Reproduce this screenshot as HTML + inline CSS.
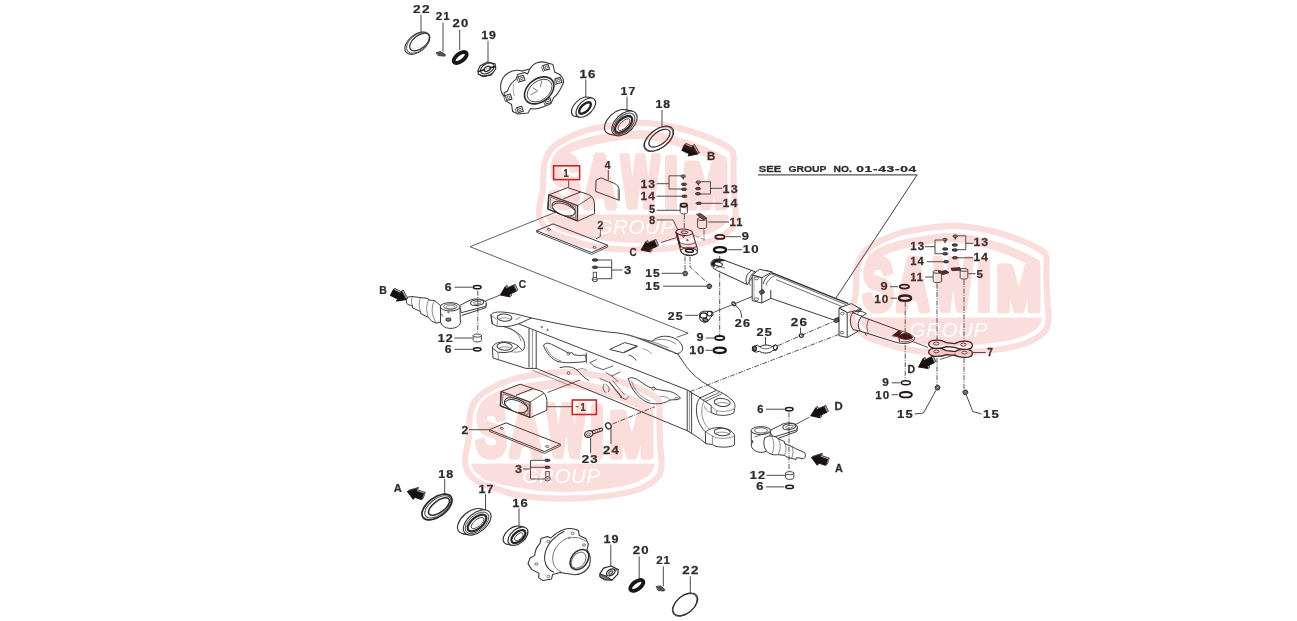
<!DOCTYPE html>
<html lang="en">
<head>
<meta charset="utf-8">
<title>Rear axle parts diagram</title>
<style>
html,body{margin:0;padding:0;background:#fff;}
body{width:1297px;height:621px;overflow:hidden;}
svg{display:block;position:absolute;left:0;top:0;}
text{font-family:"Liberation Sans",sans-serif;}
.n{font-weight:bold;stroke:#2b2b2b;stroke-width:0.25px;}
.g{font-weight:bold;}
.wmt{font-family:"Liberation Sans",sans-serif;font-weight:bold;}
.wmg{font-family:"Liberation Sans",sans-serif;font-style:italic;}
#art{filter:url(#soft);}
</style>
</head>
<body>
<svg width="1297" height="621" viewBox="0 0 1297 621">
<defs>
<filter id="soft" x="0" y="0" width="100%" height="100%" filterUnits="userSpaceOnUse" color-interpolation-filters="sRGB"><feGaussianBlur stdDeviation="0.45"/></filter>
</defs>
<rect width="1297" height="621" fill="#ffffff"/>
<g id="art">
<path d="M491 314.8 C491.6 312.6 496 311.8 502 312 C511 312.4 520 315 531.5 318 L518.6 323.8 C514 325.6 509 326.6 504 326.6 L497 326.2 L492.4 323.8 Z" fill="#fff" stroke="#404040" stroke-width="1" stroke-linejoin="round" stroke-linecap="round"/>
<path d="M491 314.8 L492.4 323.8" fill="none" stroke="#404040" stroke-width="1" stroke-linejoin="round" stroke-linecap="round"/>
<path d="M492.4 316.6 C495 318.4 497 319.6 497.4 320.6 L497 326.2" fill="none" stroke="#606060" stroke-width="0.7" stroke-linejoin="round" stroke-linecap="round"/>
<ellipse cx="504.5" cy="317.6" rx="7.4" ry="3.6" fill="#fff" stroke="#404040" stroke-width="1" transform="rotate(4 504.5 317.6)"/>
<path d="M498.6 319.4 C501 317.4 507 317.2 510.6 319" fill="none" stroke="#606060" stroke-width="0.7" stroke-linejoin="round" stroke-linecap="round"/>
<line x1="515.6" y1="319.6" x2="520.6" y2="317.2" stroke="#606060" stroke-width="0.7" stroke-linecap="butt"/>
<path d="M492.4 347.6 C493 344 498 341.8 504 341.8 C510 341.8 515 343.4 518.6 346.4 L511 351.6 L505 352.6 L498 352.2 Z" fill="#fff" stroke="#404040" stroke-width="1" stroke-linejoin="round" stroke-linecap="round"/>
<ellipse cx="504.6" cy="346.4" rx="7.6" ry="3.8" fill="#fff" stroke="#404040" stroke-width="1" transform="rotate(3 504.6 346.4)"/>
<path d="M498.6 348.4 C501 346.4 507 346.2 510.6 348" fill="none" stroke="#606060" stroke-width="0.7" stroke-linejoin="round" stroke-linecap="round"/>
<path d="M492.4 347.6 L493 358 L526 368.4 L536.4 368.4" fill="none" stroke="#404040" stroke-width="1" stroke-linejoin="round" stroke-linecap="round"/>
<path d="M498 352.2 L498.4 359.6" fill="none" stroke="#606060" stroke-width="0.7" stroke-linejoin="round" stroke-linecap="round"/>
<path d="M504 326.6 C512 329 520 333 523.6 340 C525.6 345 524.6 349 522.6 350.6 L518.6 346.4" fill="none" stroke="#404040" stroke-width="1" stroke-linejoin="round" stroke-linecap="round"/>
<path d="M511 351.6 C514 352.6 520 352.4 522.6 350.6" fill="none" stroke="#606060" stroke-width="0.7" stroke-linejoin="round" stroke-linecap="round"/>
<path d="M509 327.6 C515 330.6 519.6 335 521 341" fill="none" stroke="#606060" stroke-width="0.7" stroke-linejoin="round" stroke-linecap="round"/>
<line x1="529" y1="328.4" x2="529" y2="367.6" stroke="#404040" stroke-width="1" stroke-linecap="butt"/>
<line x1="532.4" y1="330" x2="532.4" y2="368.4" stroke="#606060" stroke-width="0.7" stroke-linecap="butt"/>
<line x1="536.2" y1="331.6" x2="536.2" y2="368.4" stroke="#404040" stroke-width="1" stroke-linecap="butt"/>
<path d="M531.5 318 C560 324 590 330.6 617.9 333 C626 334 633 336.4 640 338.6" fill="none" stroke="#404040" stroke-width="1" stroke-linejoin="round" stroke-linecap="round"/>
<path d="M518.6 323.8 L536 330.8 L689 390.6" fill="none" stroke="#404040" stroke-width="1" stroke-linejoin="round" stroke-linecap="round"/>
<ellipse cx="541.8" cy="327" rx="0.7" ry="0.7" fill="none" stroke="#404040" stroke-width="0.8"/>
<ellipse cx="547.6" cy="329.9" rx="0.7" ry="0.7" fill="none" stroke="#404040" stroke-width="0.8"/>
<path d="M640 338.6 L652 341.4 C655 337.6 662 335.6 668 336.4 C676 337.4 682 342.4 682.6 347.6 C683 351.6 679 354.4 675 353.4" fill="none" stroke="#404040" stroke-width="1" stroke-linejoin="round" stroke-linecap="round"/>
<path d="M640 338.6 C650 343 662 347.6 672 351.6 L678 354.2" fill="none" stroke="#404040" stroke-width="1" stroke-linejoin="round" stroke-linecap="round"/>
<path d="M636 337.6 C648 342 660 347 670 351.4" fill="none" stroke="#606060" stroke-width="0.7" stroke-linejoin="round" stroke-linecap="round"/>
<path d="M628 334.6 C642 338.6 658 345 674 352.4" fill="none" stroke="#606060" stroke-width="0.7" stroke-linejoin="round" stroke-linecap="round"/>
<path d="M652 341.4 C658 338 668 338.6 676 344" fill="none" stroke="#606060" stroke-width="0.7" stroke-linejoin="round" stroke-linecap="round"/>
<path d="M652 341.4 L668 347.6" fill="none" stroke="#606060" stroke-width="0.7" stroke-linejoin="round" stroke-linecap="round"/>
<polygon points="609.7,349.4 624.7,342.6 637,346 623.4,352.8" fill="none" stroke="#404040" stroke-width="1" stroke-linejoin="round"/>
<line x1="623.6" y1="352.6" x2="637.6" y2="346.2" stroke="#555" stroke-width="1.4" stroke-linecap="butt"/>
<path d="M629 355 C632 356 634.6 357.6 636 360.2" fill="none" stroke="#404040" stroke-width="1" stroke-linejoin="round" stroke-linecap="round"/>
<path d="M643 348.6 C646.6 349.6 649.6 351.6 651.4 353.6" fill="none" stroke="#606060" stroke-width="0.7" stroke-linejoin="round" stroke-linecap="round"/>
<path d="M678 354.2 C680.6 358 683 362 686.3 366.5 C692 374 700 381 708.4 385.5 L716.6 390.3" fill="none" stroke="#404040" stroke-width="1" stroke-linejoin="round" stroke-linecap="round"/>
<path d="M536.4 368.4 L687.2 430.7" fill="none" stroke="#404040" stroke-width="1" stroke-linejoin="round" stroke-linecap="round"/>
<path d="M533 370.4 L570 385.6" fill="none" stroke="#606060" stroke-width="0.7" stroke-linejoin="round" stroke-linecap="round"/>
<path d="M543.6 345.6 C545 342 549 343 553 345 C559 348 565 351 569.4 353.6 C571 352 573.4 352.6 573.4 354.6 C577 355.6 582 355.6 585.6 355 L586.4 361 C582 362.6 577 362 573 362.6 C568 363 563 362.6 558 361.6 C552 359.6 546 353 543.6 345.6 Z" fill="none" stroke="#404040" stroke-width="1" stroke-linejoin="round" stroke-linecap="round"/>
<path d="M546.4 347.6 C548.6 354 554 359 561 361" fill="none" stroke="#606060" stroke-width="0.7" stroke-linejoin="round" stroke-linecap="round"/>
<ellipse cx="568.4" cy="353.6" rx="1.5" ry="1.5" fill="none" stroke="#404040" stroke-width="0.7"/>
<ellipse cx="568.6" cy="373" rx="1.5" ry="1.5" fill="none" stroke="#404040" stroke-width="0.7"/>
<path d="M560 367.6 C566 366 573 366.6 577 370 C580 373 584 378 588.4 380.2" fill="none" stroke="#404040" stroke-width="1" stroke-linejoin="round" stroke-linecap="round"/>
<path d="M577 370 C580 368 584 368 586.6 370.4" fill="none" stroke="#606060" stroke-width="0.7" stroke-linejoin="round" stroke-linecap="round"/>
<path d="M586.4 353 L586.6 363 M590 362.6 L596.6 359.6 M590 362.6 L594.6 366.6 M594.6 366.6 L603 369.6 M603 369.6 L613 366 M606 372.6 L612 376 M612 376 L620 372 M612 376 L618 381.6 M600 378.6 L608 382 M604 384 C602 387 603 391 606 392.6 M606 384.6 C609 386 610 389 608.6 391.6" fill="none" stroke="#404040" stroke-width="0.8" stroke-linejoin="round" stroke-linecap="round"/>
<line x1="609" y1="381.6" x2="622" y2="397.6" stroke="#555" stroke-width="1.3" stroke-linecap="butt"/>
<line x1="612.6" y1="380.6" x2="624.6" y2="395" stroke="#404040" stroke-width="0.7" stroke-linecap="butt"/>
<path d="M620 397 L626 399.6 L628.6 396.6" fill="none" stroke="#404040" stroke-width="0.8" stroke-linejoin="round" stroke-linecap="round"/>
<path d="M628.4 378.6 C631 376.6 635 378 639 380.6 C644 384 648 387 651.6 388 C653 386.6 655.6 387 655.4 389 C659 390 665 390.6 669.6 391.4 C674 392.4 678.6 395 680.4 398.4 C678 400 674 399.6 670 400 C664 404 656 404.6 649 403 C640 400 631 390 628.4 378.6 Z" fill="none" stroke="#404040" stroke-width="1" stroke-linejoin="round" stroke-linecap="round"/>
<path d="M631.6 381 C634 390 641 398 650 401" fill="none" stroke="#606060" stroke-width="0.7" stroke-linejoin="round" stroke-linecap="round"/>
<ellipse cx="653.4" cy="388.6" rx="1.5" ry="1.5" fill="none" stroke="#404040" stroke-width="0.7"/>
<ellipse cx="676.4" cy="398.6" rx="1.6" ry="1.3" fill="none" stroke="#404040" stroke-width="0.7"/>
<path d="M660 396.6 C664 396 668 397 670 400" fill="none" stroke="#606060" stroke-width="0.7" stroke-linejoin="round" stroke-linecap="round"/>
<line x1="687.2" y1="390.3" x2="687.2" y2="430.7" stroke="#404040" stroke-width="1" stroke-linecap="butt"/>
<line x1="689.4" y1="391.4" x2="689.4" y2="431.6" stroke="#606060" stroke-width="0.7" stroke-linecap="butt"/>
<line x1="691.6" y1="392.4" x2="691.6" y2="433" stroke="#404040" stroke-width="1" stroke-linecap="butt"/>
<path d="M689 391.2 L700.2 397.8" fill="none" stroke="#404040" stroke-width="1" stroke-linejoin="round" stroke-linecap="round"/>
<path d="M687.2 430.7 L700.2 438.9 L706 443.6" fill="none" stroke="#404040" stroke-width="1" stroke-linejoin="round" stroke-linecap="round"/>
<path d="M700.2 397.8 L716.6 390.3 C722 392.6 728 396 732 400 C735 403 735.6 406 734.4 408.6 L734 412.6 C730 415.6 722 416 716 414.6 L711.2 412.6 L711.2 406 Z" fill="#fff" stroke="#404040" stroke-width="1" stroke-linejoin="round" stroke-linecap="round"/>
<path d="M734.4 408.6 C730 411.6 722 412 716 410.6 L711.2 406" fill="none" stroke="#606060" stroke-width="0.7" stroke-linejoin="round" stroke-linecap="round"/>
<ellipse cx="722.2" cy="402.4" rx="8" ry="4" fill="#fff" stroke="#404040" stroke-width="1" transform="rotate(6 722.2 402.4)"/>
<path d="M715.6 404 C718 402 725 402 728.6 404" fill="none" stroke="#606060" stroke-width="0.7" stroke-linejoin="round" stroke-linecap="round"/>
<path d="M703.6 399.6 L719 392.6 M706 401.2 L721.4 394" fill="none" stroke="#404040" stroke-width="0.8" stroke-linejoin="round" stroke-linecap="round"/>
<line x1="716.6" y1="411" x2="716.6" y2="414.6" stroke="#606060" stroke-width="0.7" stroke-linecap="butt"/>
<path d="M705.6 432 C708 429 714 427.4 720 427.6 C727 428 733 431 734.6 435.6 L734.4 445 C731 447.4 722 447.6 716 446.4 L712.4 444.6 L706 443.6 Z" fill="#fff" stroke="#404040" stroke-width="1" stroke-linejoin="round" stroke-linecap="round"/>
<path d="M734.6 435.6 C731 438.4 722 439 716 437.6 L712.4 436 L705.6 432 M712.4 436 L712.4 444.6" fill="none" stroke="#606060" stroke-width="0.7" stroke-linejoin="round" stroke-linecap="round"/>
<ellipse cx="722.2" cy="432" rx="8" ry="3.8" fill="#fff" stroke="#404040" stroke-width="1" transform="rotate(4 722.2 432)"/>
<path d="M715.6 433.6 C718 431.6 725 431.6 728.6 433.6" fill="none" stroke="#606060" stroke-width="0.7" stroke-linejoin="round" stroke-linecap="round"/>
<path d="M700.2 397.8 C696.6 401 695.6 408 697 416 C698.6 423 702 429 705.6 432" fill="none" stroke="#404040" stroke-width="1" stroke-linejoin="round" stroke-linecap="round"/>
<path d="M704.6 400.6 C701.6 405 701 412 702.6 418 C704 423.6 707 427.6 710 429.6" fill="none" stroke="#606060" stroke-width="0.7" stroke-linejoin="round" stroke-linecap="round"/>
<path d="M711.2 412.6 C707 411.6 704.6 409 704.6 406" fill="none" stroke="#606060" stroke-width="0.7" stroke-linejoin="round" stroke-linecap="round"/>
<path d="M459.6 305.6 L470 300.2 C474 298.4 481 298.6 484.6 300.8 C487 302.4 487 305 485.4 306.4 L461.6 312.6 Z" fill="#fff" stroke="#3a3a3a" stroke-width="1" stroke-linejoin="round" stroke-linecap="round"/>
<ellipse cx="477.1" cy="302.6" rx="6.6" ry="2.8" fill="#fff" stroke="#3a3a3a" stroke-width="1" transform="rotate(-6 477.1 302.6)"/>
<ellipse cx="477.3" cy="302.8" rx="3.8" ry="1.5" fill="none" stroke="#5a5a5a" stroke-width="0.8" transform="rotate(-6 477.3 302.8)"/>
<path d="M486 303.6 L486 307.6 L462 315.4" fill="none" stroke="#3a3a3a" stroke-width="1" stroke-linejoin="round" stroke-linecap="round"/>
<path d="M407.4 297.4 C405.8 299.4 406 302.6 407.6 304.4 L412.6 306 L412.4 307.8 L420.6 311.6 L420.8 313.6 L428.6 317.6 C430 320 433 322.4 436.6 323 L441 322 L441 306 L434.6 300.6 L428.6 300 L428 298.4 L420.6 297.6 L412.4 296.6 Z" fill="#fff" stroke="#3a3a3a" stroke-width="1" stroke-linejoin="round" stroke-linecap="round"/>
<path d="M412.4 296.6 C411 299 411.2 303.6 412.6 306 M420.6 297.6 C418.6 301 418.8 308 420.6 311.6 M428.6 300 C426 304 426 313 428.6 317.6 M434.6 300.6 C431 305 431 317 436.6 323" fill="none" stroke="#5a5a5a" stroke-width="0.7" stroke-linejoin="round" stroke-linecap="round"/>
<path d="M440.4 306.8 L440.6 322.6 C442 326.6 447 328.6 451 328.4 C456 328.2 460 326 460.4 322.6 L460 306.8" fill="#fff" stroke="#3a3a3a" stroke-width="1" stroke-linejoin="round" stroke-linecap="round"/>
<ellipse cx="450.2" cy="306.8" rx="9.8" ry="4.2" fill="#fff" stroke="#3a3a3a" stroke-width="1"/>
<ellipse cx="450.4" cy="306.6" rx="6.8" ry="2.7" fill="none" stroke="#3a3a3a" stroke-width="0.8"/>
<ellipse cx="450.6" cy="307.2" rx="4.6" ry="1.7" fill="none" stroke="#5a5a5a" stroke-width="0.7"/>
<ellipse cx="448.4" cy="319.6" rx="2.4" ry="1.6" fill="#888" stroke="#333" stroke-width="1.1"/>
<ellipse cx="448.4" cy="312.4" rx="0.6" ry="0.6" fill="none" stroke="#333" stroke-width="0.7"/>
<path d="M441.6 314 L442.4 316" fill="none" stroke="#333" stroke-width="0.8" stroke-linejoin="round" stroke-linecap="round"/>
<path d="M769.6 430.6 L782 424.4 C785 422.6 792 422.4 795.6 424.4 C798 425.8 798 428.6 796.4 430 L773.6 437.2 Z" fill="#fff" stroke="#3a3a3a" stroke-width="1" stroke-linejoin="round" stroke-linecap="round"/>
<ellipse cx="789.3" cy="426.6" rx="6.6" ry="2.9" fill="#fff" stroke="#3a3a3a" stroke-width="1" transform="rotate(-8 789.3 426.6)"/>
<ellipse cx="789.4" cy="426.8" rx="3.8" ry="1.5" fill="none" stroke="#5a5a5a" stroke-width="0.8" transform="rotate(-8 789.4 426.8)"/>
<path d="M797 427.6 L797 431.4 L776 439.2" fill="none" stroke="#3a3a3a" stroke-width="1" stroke-linejoin="round" stroke-linecap="round"/>
<path d="M751.2 431 L751.4 446.6 C753 450.6 758 452.6 762 452.4 C764 452.2 766 451.6 767.6 450.6 L770.6 431" fill="#fff" stroke="#3a3a3a" stroke-width="1" stroke-linejoin="round" stroke-linecap="round"/>
<ellipse cx="760.9" cy="430.6" rx="9.7" ry="4" fill="#fff" stroke="#3a3a3a" stroke-width="1"/>
<ellipse cx="761" cy="430.4" rx="6.6" ry="2.6" fill="none" stroke="#3a3a3a" stroke-width="0.8"/>
<path d="M752.4 440.6 L752.8 443" fill="none" stroke="#333" stroke-width="1" stroke-linejoin="round" stroke-linecap="round"/>
<path d="M765 437.6 C769 435 775 435.6 778 438.6 L784.4 441.6 L784.6 443.6 L792 446.6 L795.6 448.6 L804.6 452.6 C806 454.6 805.6 457.4 803.6 458.8 L796.6 457.6 L796 459.4 L788 457.6 L784.4 455.4 L778 454.6 C774 455.6 769 454 766.4 451 C763.6 447 763 441 765 437.6 Z" fill="#fff" stroke="#3a3a3a" stroke-width="1" stroke-linejoin="round" stroke-linecap="round"/>
<path d="M778 438.6 C781 442.6 781 450.6 778 454.6 M771.6 436.4 C774.6 441 774.6 450 771.4 454.6 M784.4 441.6 C786.6 445.6 786.6 451.6 784.4 455.4 M792 446.6 C793.6 449.6 793.4 454.6 791.6 458.4" fill="none" stroke="#5a5a5a" stroke-width="0.7" stroke-linejoin="round" stroke-linecap="round"/>
<path d="M755 437 L770 431.6" fill="none" stroke="#5a5a5a" stroke-width="0.8" stroke-linejoin="round" stroke-linecap="round"/>
<line x1="470" y1="246.7" x2="559.8" y2="210.5" stroke="#3a3a3a" stroke-width="0.8" stroke-linecap="butt"/>
<polyline points="470,246.7 688.2,333.2 676.6,337.4" fill="none" stroke="#3a3a3a" stroke-width="0.8" stroke-linejoin="round"/>
<line x1="547.5" y1="392.5" x2="580" y2="380" stroke="#3a3a3a" stroke-width="0.8" stroke-linecap="butt"/>
<line x1="612.5" y1="424" x2="655" y2="406.7" stroke="#2b2b2b" stroke-width="0.8" stroke-dasharray="5 1.3 1 1.3" stroke-linecap="butt"/>
<line x1="690" y1="391.7" x2="840" y2="334" stroke="#2b2b2b" stroke-width="0.8" stroke-dasharray="5 1.3 1 1.3" stroke-linecap="butt"/>
<line x1="713.3" y1="312.5" x2="756.7" y2="294.7" stroke="#2b2b2b" stroke-width="0.8" stroke-linecap="butt"/>
<line x1="777.5" y1="345.8" x2="835" y2="320.8" stroke="#2b2b2b" stroke-width="0.8" stroke-dasharray="5 1.3 1 1.3" stroke-linecap="butt"/>
<line x1="421" y1="14.7" x2="421" y2="31.7" stroke="#2b2b2b" stroke-width="0.85" stroke-linecap="butt"/>
<line x1="443" y1="22.5" x2="443" y2="51.7" stroke="#2b2b2b" stroke-width="0.85" stroke-linecap="butt"/>
<line x1="459.7" y1="29.7" x2="459.7" y2="50" stroke="#2b2b2b" stroke-width="0.85" stroke-linecap="butt"/>
<line x1="488" y1="40.8" x2="488" y2="62.5" stroke="#2b2b2b" stroke-width="0.85" stroke-linecap="butt"/>
<line x1="585.8" y1="79.5" x2="585.8" y2="97.5" stroke="#2b2b2b" stroke-width="0.85" stroke-linecap="butt"/>
<line x1="627" y1="96.7" x2="627" y2="110" stroke="#2b2b2b" stroke-width="0.85" stroke-linecap="butt"/>
<line x1="662" y1="110" x2="662" y2="126" stroke="#2b2b2b" stroke-width="0.85" stroke-linecap="butt"/>
<line x1="608.3" y1="170" x2="608.3" y2="180" stroke="#2b2b2b" stroke-width="0.85" stroke-linecap="butt"/>
<line x1="568.7" y1="180.3" x2="568.7" y2="187.5" stroke="#2b2b2b" stroke-width="0.85" stroke-linecap="butt"/>
<line x1="600.3" y1="229.5" x2="600.3" y2="236.5" stroke="#2b2b2b" stroke-width="0.85" stroke-linecap="butt"/>
<line x1="444.7" y1="479" x2="444.7" y2="494.7" stroke="#2b2b2b" stroke-width="0.85" stroke-linecap="butt"/>
<line x1="485.5" y1="494.3" x2="485.5" y2="510" stroke="#2b2b2b" stroke-width="0.85" stroke-linecap="butt"/>
<line x1="519" y1="508.3" x2="519" y2="526.7" stroke="#2b2b2b" stroke-width="0.85" stroke-linecap="butt"/>
<line x1="610.8" y1="544.7" x2="610.8" y2="566.3" stroke="#2b2b2b" stroke-width="0.85" stroke-linecap="butt"/>
<line x1="639.2" y1="556.3" x2="639.2" y2="578.8" stroke="#2b2b2b" stroke-width="0.85" stroke-linecap="butt"/>
<line x1="663.3" y1="566.3" x2="663.3" y2="586.3" stroke="#2b2b2b" stroke-width="0.85" stroke-linecap="butt"/>
<line x1="690.3" y1="576.3" x2="690.3" y2="593.8" stroke="#2b2b2b" stroke-width="0.85" stroke-linecap="butt"/>
<line x1="590.6" y1="437.6" x2="590.6" y2="453.3" stroke="#2b2b2b" stroke-width="0.85" stroke-linecap="butt"/>
<line x1="765.5" y1="337" x2="765.5" y2="345.8" stroke="#2b2b2b" stroke-width="0.85" stroke-linecap="butt"/>
<line x1="800.5" y1="327.5" x2="800.5" y2="333.3" stroke="#2b2b2b" stroke-width="0.85" stroke-linecap="butt"/>
<line x1="611" y1="428.6" x2="611" y2="444" stroke="#2b2b2b" stroke-width="0.85" stroke-linecap="butt"/>
<line x1="656.7" y1="183.7" x2="669" y2="183.7" stroke="#2b2b2b" stroke-width="0.85" stroke-linecap="butt"/>
<line x1="669" y1="175.8" x2="669" y2="189" stroke="#2b2b2b" stroke-width="0.85" stroke-linecap="butt"/>
<line x1="669" y1="175.8" x2="681" y2="175.8" stroke="#2b2b2b" stroke-width="0.85" stroke-linecap="butt"/>
<line x1="669" y1="189" x2="681" y2="189" stroke="#2b2b2b" stroke-width="0.85" stroke-linecap="butt"/>
<ellipse cx="683.2" cy="176.2" rx="2.2" ry="1.3" fill="#888" stroke="#222" stroke-width="0.9"/>
<line x1="683.2" y1="177.2" x2="683.2" y2="179.6" stroke="#333" stroke-width="1.3" stroke-linecap="butt"/>
<ellipse cx="684" cy="184.3" rx="2.7" ry="1.2" fill="#555" stroke="#222" stroke-width="0.9"/>
<ellipse cx="684" cy="189.3" rx="2.7" ry="1.2" fill="#555" stroke="#222" stroke-width="0.9"/>
<line x1="656.7" y1="196.2" x2="681" y2="196.2" stroke="#2b2b2b" stroke-width="0.85" stroke-linecap="butt"/>
<ellipse cx="684.3" cy="196.2" rx="2.7" ry="1.2" fill="#555" stroke="#222" stroke-width="0.9"/>
<line x1="656.7" y1="210.3" x2="680" y2="210.3" stroke="#2b2b2b" stroke-width="0.85" stroke-linecap="butt"/>
<path d="M680.2 205.8 L680.2 212.4 A3.6 1.6 0 0 0 687.4 212.4 L687.4 205.8" fill="#fff" stroke="#333" stroke-width="0.9" stroke-linejoin="round" stroke-linecap="round"/>
<ellipse cx="683.8" cy="205.8" rx="3.6" ry="1.6" fill="#fff" stroke="#333" stroke-width="0.9"/>
<ellipse cx="683.8" cy="205" rx="3.3" ry="1.6" fill="#fff" stroke="#2a2020" stroke-width="1.7"/>
<polyline points="656.7,220 673,220 678,230" fill="none" stroke="#2b2b2b" stroke-width="0.85" stroke-linejoin="round"/>
<line x1="710.5" y1="181.7" x2="710.5" y2="194" stroke="#2b2b2b" stroke-width="0.85" stroke-linecap="butt"/>
<line x1="700.5" y1="181.7" x2="710.5" y2="181.7" stroke="#2b2b2b" stroke-width="0.85" stroke-linecap="butt"/>
<line x1="700.5" y1="194" x2="710.5" y2="194" stroke="#2b2b2b" stroke-width="0.85" stroke-linecap="butt"/>
<line x1="710.5" y1="188.3" x2="722.5" y2="188.3" stroke="#2b2b2b" stroke-width="0.85" stroke-linecap="butt"/>
<ellipse cx="698.3" cy="182.2" rx="2.2" ry="1.3" fill="#888" stroke="#222" stroke-width="0.9"/>
<line x1="698.3" y1="183.2" x2="698.3" y2="185.6" stroke="#333" stroke-width="1.3" stroke-linecap="butt"/>
<ellipse cx="698" cy="188.6" rx="2.7" ry="1.2" fill="#555" stroke="#222" stroke-width="0.9"/>
<ellipse cx="698" cy="193.8" rx="2.7" ry="1.2" fill="#555" stroke="#222" stroke-width="0.9"/>
<line x1="701.7" y1="203.3" x2="722.5" y2="203.3" stroke="#2b2b2b" stroke-width="0.85" stroke-linecap="butt"/>
<ellipse cx="698.8" cy="203.3" rx="2.7" ry="1.2" fill="#555" stroke="#222" stroke-width="0.9"/>
<line x1="708" y1="222" x2="729" y2="222" stroke="#2b2b2b" stroke-width="0.85" stroke-linecap="butt"/>
<path d="M697.6 219 L697.6 227.1 A4.5 1.5 0 0 0 706.6 227.1 L706.6 219" fill="#fff" stroke="#333" stroke-width="0.9" stroke-linejoin="round" stroke-linecap="round"/>
<ellipse cx="702.1" cy="219" rx="4.5" ry="1.5" fill="#fff" stroke="#333" stroke-width="0.9"/>
<polygon points="696.6,214.4 700.5,213.6 706.8,218.3 703,219.6" fill="#555" stroke="#222" stroke-width="0.9" stroke-linejoin="round"/>
<line x1="684.3" y1="214.5" x2="684.3" y2="229" stroke="#2b2b2b" stroke-width="0.8" stroke-dasharray="5 1.3 1 1.3" stroke-linecap="butt"/>
<line x1="704" y1="229.5" x2="704" y2="240.5" stroke="#2b2b2b" stroke-width="0.8" stroke-dasharray="5 1.3 1 1.3" stroke-linecap="butt"/>
<line x1="726" y1="236.7" x2="740.8" y2="236.7" stroke="#2b2b2b" stroke-width="0.85" stroke-linecap="butt"/>
<ellipse cx="720" cy="236.9" rx="4.6" ry="2" fill="#fff" stroke="#241414" stroke-width="1.9"/>
<line x1="727.5" y1="249.7" x2="742" y2="249.7" stroke="#2b2b2b" stroke-width="0.85" stroke-linecap="butt"/>
<ellipse cx="720" cy="249.8" rx="6.1" ry="2.7" fill="#fff" stroke="#181212" stroke-width="2.3"/>
<line x1="611.7" y1="260" x2="611.7" y2="278.7" stroke="#2b2b2b" stroke-width="0.85" stroke-linecap="butt"/>
<line x1="598" y1="260" x2="611.7" y2="260" stroke="#2b2b2b" stroke-width="0.85" stroke-linecap="butt"/>
<line x1="598" y1="267.3" x2="611.7" y2="267.3" stroke="#2b2b2b" stroke-width="0.85" stroke-linecap="butt"/>
<line x1="598" y1="278.7" x2="611.7" y2="278.7" stroke="#2b2b2b" stroke-width="0.85" stroke-linecap="butt"/>
<line x1="611.7" y1="270" x2="622.5" y2="270" stroke="#2b2b2b" stroke-width="0.85" stroke-linecap="butt"/>
<ellipse cx="595" cy="260" rx="2.8" ry="1.2" fill="#555" stroke="#222" stroke-width="0.9"/>
<ellipse cx="595" cy="267.3" rx="2.8" ry="1.2" fill="#555" stroke="#222" stroke-width="0.9"/>
<rect x="593.2" y="272.2" width="3.4" height="5.6" fill="#fff" stroke="#333" stroke-width="0.8"/>
<ellipse cx="594.9" cy="279.6" rx="2.7" ry="2.1" fill="#fff" stroke="#333" stroke-width="0.9"/>
<line x1="592.2" y1="279.6" x2="597.6" y2="279.6" stroke="#333" stroke-width="0.7" stroke-linecap="butt"/>
<line x1="661.7" y1="273.3" x2="682.5" y2="273.3" stroke="#2b2b2b" stroke-width="0.85" stroke-linecap="butt"/>
<polygon points="682.6,273.1 684.03,271.32 686.63,271.32 687.8,273.4 686.5,275.74 683.9,275.74" fill="#777" stroke="#222" stroke-width="0.9" stroke-linejoin="round"/>
<ellipse cx="685.2" cy="273.2" rx="1.04" ry="0.78" fill="#ddd" stroke="#222" stroke-width="0.5"/>
<line x1="663" y1="286.2" x2="706.3" y2="286.2" stroke="#2b2b2b" stroke-width="0.85" stroke-linecap="butt"/>
<polygon points="706.6,285.9 708.03,284.12 710.63,284.12 711.8,286.2 710.5,288.54 707.9,288.54" fill="#777" stroke="#222" stroke-width="0.9" stroke-linejoin="round"/>
<ellipse cx="709.2" cy="286" rx="1.04" ry="0.78" fill="#ddd" stroke="#222" stroke-width="0.5"/>
<line x1="685" y1="256.5" x2="685" y2="271" stroke="#2b2b2b" stroke-width="0.8" stroke-dasharray="5 1.3 1 1.3" stroke-linecap="butt"/>
<polyline points="690,256.7 690,267 708.3,283.5" fill="none" stroke="#2b2b2b" stroke-width="0.8" stroke-linejoin="round" stroke-dasharray="5 1.3 1 1.3"/>
<line x1="685" y1="315.3" x2="698" y2="315.3" stroke="#2b2b2b" stroke-width="0.85" stroke-linecap="butt"/>
<line x1="705.8" y1="338" x2="714" y2="338" stroke="#2b2b2b" stroke-width="0.85" stroke-linecap="butt"/>
<ellipse cx="719.7" cy="338" rx="4.6" ry="2" fill="#fff" stroke="#1f1614" stroke-width="1.9"/>
<line x1="705.5" y1="350.3" x2="712.5" y2="350.3" stroke="#2b2b2b" stroke-width="0.85" stroke-linecap="butt"/>
<ellipse cx="719.7" cy="350.3" rx="6.1" ry="2.7" fill="#fff" stroke="#1f1614" stroke-width="2.3"/>
<line x1="719.7" y1="256" x2="719.7" y2="335.5" stroke="#2b2b2b" stroke-width="0.8" stroke-dasharray="5 1.3 1 1.3" stroke-linecap="butt"/>
<ellipse cx="733.8" cy="303.8" rx="2.3" ry="1.5" fill="none" stroke="#222" stroke-width="1.2" transform="rotate(40 733.8 303.8)"/>
<path d="M735.6 305.6 Q741.5 309.5 741.8 317.5" fill="none" stroke="#2b2b2b" stroke-width="0.85" stroke-linejoin="round" stroke-linecap="round"/>
<ellipse cx="801.3" cy="335.6" rx="2" ry="1.8" fill="none" stroke="#222" stroke-width="1.2"/>
<ellipse cx="608.4" cy="425.9" rx="2.6" ry="3.2" fill="none" stroke="#333" stroke-width="1.4" transform="rotate(-35 608.4 425.9)"/>
<line x1="925" y1="246.7" x2="935" y2="246.7" stroke="#2b2b2b" stroke-width="0.85" stroke-linecap="butt"/>
<line x1="935" y1="240" x2="935" y2="253.7" stroke="#2b2b2b" stroke-width="0.85" stroke-linecap="butt"/>
<line x1="935" y1="240" x2="942.5" y2="240" stroke="#2b2b2b" stroke-width="0.85" stroke-linecap="butt"/>
<line x1="935" y1="253.7" x2="942.5" y2="253.7" stroke="#2b2b2b" stroke-width="0.85" stroke-linecap="butt"/>
<ellipse cx="945" cy="239.6" rx="2.2" ry="1.3" fill="#888" stroke="#222" stroke-width="0.9"/>
<line x1="945" y1="240.6" x2="945" y2="243" stroke="#333" stroke-width="1.3" stroke-linecap="butt"/>
<ellipse cx="945.2" cy="249" rx="2.7" ry="1.2" fill="#555" stroke="#222" stroke-width="0.9"/>
<ellipse cx="945.2" cy="253.8" rx="2.7" ry="1.2" fill="#555" stroke="#222" stroke-width="0.9"/>
<line x1="965.8" y1="243.3" x2="973.3" y2="243.3" stroke="#2b2b2b" stroke-width="0.85" stroke-linecap="butt"/>
<line x1="965.8" y1="235.8" x2="965.8" y2="249.7" stroke="#2b2b2b" stroke-width="0.85" stroke-linecap="butt"/>
<line x1="957.5" y1="235.8" x2="965.8" y2="235.8" stroke="#2b2b2b" stroke-width="0.85" stroke-linecap="butt"/>
<line x1="957.5" y1="249.7" x2="965.8" y2="249.7" stroke="#2b2b2b" stroke-width="0.85" stroke-linecap="butt"/>
<ellipse cx="955.2" cy="236.2" rx="2.2" ry="1.3" fill="#888" stroke="#222" stroke-width="0.9"/>
<line x1="955.2" y1="237.2" x2="955.2" y2="239.6" stroke="#333" stroke-width="1.3" stroke-linecap="butt"/>
<ellipse cx="954.8" cy="245" rx="2.7" ry="1.2" fill="#555" stroke="#222" stroke-width="0.9"/>
<ellipse cx="954.8" cy="250" rx="2.7" ry="1.2" fill="#555" stroke="#222" stroke-width="0.9"/>
<line x1="926.7" y1="261.7" x2="943.5" y2="261.7" stroke="#2b2b2b" stroke-width="0.85" stroke-linecap="butt"/>
<ellipse cx="946" cy="261.7" rx="2.7" ry="1.2" fill="#555" stroke="#222" stroke-width="0.9"/>
<line x1="958" y1="257.8" x2="973.3" y2="257.8" stroke="#2b2b2b" stroke-width="0.85" stroke-linecap="butt"/>
<ellipse cx="955" cy="257.8" rx="2.7" ry="1.2" fill="#555" stroke="#222" stroke-width="0.9"/>
<line x1="925" y1="277" x2="933" y2="277" stroke="#2b2b2b" stroke-width="0.85" stroke-linecap="butt"/>
<path d="M933.2 271.8 L933.2 281.1 A4.2 1.5 0 0 0 941.6 281.1 L941.6 271.8" fill="#fff" stroke="#333" stroke-width="0.9" stroke-linejoin="round" stroke-linecap="round"/>
<ellipse cx="937.4" cy="271.8" rx="4.2" ry="1.5" fill="#fff" stroke="#333" stroke-width="0.9"/>
<polygon points="938,271.8 946,270.6 949,272.6 943,274.6" fill="#333" stroke="#222" stroke-width="0.9" stroke-linejoin="round"/>
<line x1="968" y1="273.7" x2="975.5" y2="273.7" stroke="#2b2b2b" stroke-width="0.85" stroke-linecap="butt"/>
<path d="M960.2 269.9 L960.2 277.7 A3.8 1.5 0 0 0 967.8 277.7 L967.8 269.9" fill="#fff" stroke="#333" stroke-width="0.9" stroke-linejoin="round" stroke-linecap="round"/>
<ellipse cx="964" cy="269.9" rx="3.8" ry="1.5" fill="#fff" stroke="#333" stroke-width="0.9"/>
<polygon points="951,268.2 960,267.6 960.5,270.2 952,270.6" fill="#333" stroke="#222" stroke-width="0.9" stroke-linejoin="round"/>
<line x1="890" y1="286.7" x2="898" y2="286.7" stroke="#2b2b2b" stroke-width="0.85" stroke-linecap="butt"/>
<ellipse cx="904.4" cy="286.6" rx="4.6" ry="2" fill="#fff" stroke="#241414" stroke-width="1.9"/>
<line x1="890.5" y1="298.2" x2="897" y2="298.2" stroke="#2b2b2b" stroke-width="0.85" stroke-linecap="butt"/>
<ellipse cx="905" cy="298.2" rx="6.1" ry="2.7" fill="#fff" stroke="#1f1614" stroke-width="2.3"/>
<line x1="905.2" y1="302" x2="905.2" y2="380" stroke="#2b2b2b" stroke-width="0.8" stroke-dasharray="5 1.3 1 1.3" stroke-linecap="butt"/>
<line x1="937" y1="283.5" x2="937" y2="341" stroke="#2b2b2b" stroke-width="0.8" stroke-dasharray="5 1.3 1 1.3" stroke-linecap="butt"/>
<line x1="937" y1="358" x2="937" y2="385" stroke="#2b2b2b" stroke-width="0.8" stroke-dasharray="5 1.3 1 1.3" stroke-linecap="butt"/>
<line x1="964" y1="280" x2="964" y2="342" stroke="#2b2b2b" stroke-width="0.8" stroke-dasharray="5 1.3 1 1.3" stroke-linecap="butt"/>
<line x1="964" y1="358" x2="964" y2="389.5" stroke="#2b2b2b" stroke-width="0.8" stroke-dasharray="5 1.3 1 1.3" stroke-linecap="butt"/>
<line x1="973" y1="352.5" x2="985.8" y2="352.5" stroke="#2b2b2b" stroke-width="0.85" stroke-linecap="butt"/>
<line x1="891.7" y1="382.8" x2="900" y2="382.8" stroke="#2b2b2b" stroke-width="0.85" stroke-linecap="butt"/>
<ellipse cx="905.8" cy="382.8" rx="4.5" ry="2" fill="#fff" stroke="#1f1614" stroke-width="1.5"/>
<line x1="891.5" y1="394.7" x2="898" y2="394.7" stroke="#2b2b2b" stroke-width="0.85" stroke-linecap="butt"/>
<ellipse cx="905.8" cy="394.7" rx="6" ry="2.7" fill="#fff" stroke="#1f1614" stroke-width="1.9"/>
<polygon points="934.9,387.3 936.33,385.52 938.93,385.52 940.1,387.6 938.8,389.94 936.2,389.94" fill="#777" stroke="#222" stroke-width="0.9" stroke-linejoin="round"/>
<ellipse cx="937.5" cy="387.4" rx="1.04" ry="0.78" fill="#ddd" stroke="#222" stroke-width="0.5"/>
<polygon points="962.7,391.9 964.13,390.12 966.73,390.12 967.9,392.2 966.6,394.54 964,394.54" fill="#777" stroke="#222" stroke-width="0.9" stroke-linejoin="round"/>
<ellipse cx="965.3" cy="392" rx="1.04" ry="0.78" fill="#ddd" stroke="#222" stroke-width="0.5"/>
<polyline points="936,390.3 923.5,413 914.5,414" fill="none" stroke="#2b2b2b" stroke-width="0.85" stroke-linejoin="round"/>
<polyline points="966.3,395 972.8,411.5 981.7,414" fill="none" stroke="#2b2b2b" stroke-width="0.85" stroke-linejoin="round"/>
<line x1="913" y1="341.7" x2="928" y2="347.5" stroke="#2b2b2b" stroke-width="0.8" stroke-linecap="butt"/>
<line x1="766" y1="409.2" x2="784.4" y2="409.2" stroke="#2b2b2b" stroke-width="0.85" stroke-linecap="butt"/>
<ellipse cx="789.2" cy="409.2" rx="3.8" ry="1.6" fill="#fff" stroke="#1f1614" stroke-width="1.5"/>
<line x1="789" y1="412.4" x2="789" y2="471" stroke="#2b2b2b" stroke-width="0.8" stroke-dasharray="5 1.3 1 1.3" stroke-linecap="butt"/>
<line x1="766.4" y1="475.3" x2="785" y2="475.3" stroke="#2b2b2b" stroke-width="0.85" stroke-linecap="butt"/>
<path d="M785.6 473.2 L785.6 477.8 A4.1 1.6 0 0 0 793.8 477.8 L793.8 473.2" fill="#fff" stroke="#333" stroke-width="0.9" stroke-linejoin="round" stroke-linecap="round"/>
<ellipse cx="789.7" cy="473.2" rx="4.1" ry="1.6" fill="#fff" stroke="#333" stroke-width="0.9"/>
<line x1="766" y1="486.9" x2="784.4" y2="486.9" stroke="#2b2b2b" stroke-width="0.85" stroke-linecap="butt"/>
<ellipse cx="789.6" cy="486.9" rx="3.8" ry="1.6" fill="#fff" stroke="#1f1614" stroke-width="1.5"/>
<line x1="809.4" y1="417.2" x2="793.5" y2="425.6" stroke="#2b2b2b" stroke-width="0.8" stroke-linecap="butt"/>
<line x1="454.6" y1="287.2" x2="472.6" y2="287.2" stroke="#2b2b2b" stroke-width="0.85" stroke-linecap="butt"/>
<ellipse cx="477.2" cy="287.2" rx="3.8" ry="1.6" fill="#fff" stroke="#1f1614" stroke-width="1.5"/>
<line x1="477.8" y1="290.7" x2="477.8" y2="333.5" stroke="#2b2b2b" stroke-width="0.8" stroke-dasharray="5 1.3 1 1.3" stroke-linecap="butt"/>
<line x1="454.3" y1="338" x2="472.5" y2="338" stroke="#2b2b2b" stroke-width="0.85" stroke-linecap="butt"/>
<path d="M473.2 335.6 L473.2 340.4 A4.1 1.6 0 0 0 481.4 340.4 L481.4 335.6" fill="#fff" stroke="#333" stroke-width="0.9" stroke-linejoin="round" stroke-linecap="round"/>
<ellipse cx="477.3" cy="335.6" rx="4.1" ry="1.6" fill="#fff" stroke="#333" stroke-width="0.9"/>
<line x1="454.6" y1="349.3" x2="472.6" y2="349.3" stroke="#2b2b2b" stroke-width="0.85" stroke-linecap="butt"/>
<ellipse cx="477.2" cy="349.3" rx="3.8" ry="1.6" fill="#fff" stroke="#1f1614" stroke-width="1.5"/>
<line x1="500.4" y1="294.9" x2="484.4" y2="301.4" stroke="#2b2b2b" stroke-width="0.8" stroke-linecap="butt"/>
<line x1="661" y1="242.5" x2="676.7" y2="237.5" stroke="#2b2b2b" stroke-width="0.8" stroke-linecap="butt"/>
<line x1="469" y1="429.7" x2="489" y2="429.7" stroke="#2b2b2b" stroke-width="0.85" stroke-linecap="butt"/>
<line x1="546.7" y1="406.7" x2="572" y2="406.7" stroke="#2b2b2b" stroke-width="0.85" stroke-linecap="butt"/>
<line x1="575.6" y1="406.7" x2="578.6" y2="406.7" stroke="#2b2b2b" stroke-width="0.85" stroke-linecap="butt"/>
<line x1="530.5" y1="460.3" x2="530.5" y2="479" stroke="#2b2b2b" stroke-width="0.85" stroke-linecap="butt"/>
<line x1="530.5" y1="460.3" x2="544" y2="460.3" stroke="#2b2b2b" stroke-width="0.85" stroke-linecap="butt"/>
<line x1="530.5" y1="467.3" x2="544" y2="467.3" stroke="#2b2b2b" stroke-width="0.85" stroke-linecap="butt"/>
<line x1="530.5" y1="479" x2="544" y2="479" stroke="#2b2b2b" stroke-width="0.85" stroke-linecap="butt"/>
<line x1="523" y1="469" x2="530.5" y2="469" stroke="#2b2b2b" stroke-width="0.85" stroke-linecap="butt"/>
<ellipse cx="547.3" cy="460.3" rx="2.8" ry="1.2" fill="#555" stroke="#222" stroke-width="0.9"/>
<ellipse cx="547.3" cy="467.3" rx="2.8" ry="1.2" fill="#555" stroke="#222" stroke-width="0.9"/>
<rect x="545.8" y="471.6" width="3.4" height="5" fill="#fff" stroke="#333" stroke-width="0.8"/>
<ellipse cx="547.5" cy="478.8" rx="2.7" ry="2.1" fill="#fff" stroke="#333" stroke-width="0.9"/>
<line x1="544.8" y1="478.8" x2="550.2" y2="478.8" stroke="#333" stroke-width="0.7" stroke-linecap="butt"/>
<polygon points="699.3,152.7 694.41,144.5 693.44,146.7 686.13,143.44 683.61,149.11 690.91,152.36 689.94,154.55" fill="#a8a8a8" stroke="#3a3a3a" stroke-width="0.8" stroke-linejoin="round"/>
<polygon points="697.6,154 692.71,145.8 694.41,144.5 699.3,152.7" fill="#a8a8a8" stroke="#3a3a3a" stroke-width="0.5" stroke-linejoin="round"/>
<polygon points="692.71,145.8 691.74,148 693.44,146.7 694.41,144.5" fill="#a8a8a8" stroke="#3a3a3a" stroke-width="0.5" stroke-linejoin="round"/>
<polygon points="691.74,148 684.43,144.74 686.13,143.44 693.44,146.7" fill="#a8a8a8" stroke="#3a3a3a" stroke-width="0.5" stroke-linejoin="round"/>
<polygon points="684.43,144.74 681.91,150.41 683.61,149.11 686.13,143.44" fill="#a8a8a8" stroke="#3a3a3a" stroke-width="0.5" stroke-linejoin="round"/>
<polygon points="681.91,150.41 689.21,153.66 690.91,152.36 683.61,149.11" fill="#a8a8a8" stroke="#3a3a3a" stroke-width="0.5" stroke-linejoin="round"/>
<polygon points="689.21,153.66 688.24,155.85 689.94,154.55 690.91,152.36" fill="#a8a8a8" stroke="#3a3a3a" stroke-width="0.5" stroke-linejoin="round"/>
<polygon points="688.24,155.85 697.6,154 699.3,152.7 689.94,154.55" fill="#a8a8a8" stroke="#3a3a3a" stroke-width="0.5" stroke-linejoin="round"/>
<polygon points="697.6,154 692.71,145.8 691.74,148 684.43,144.74 681.91,150.41 689.21,153.66 688.24,155.85" fill="#171010" stroke="#171010" stroke-width="0.8" stroke-linejoin="round"/>
<polygon points="642.7,248.7 652.06,250.55 651.09,248.36 658.39,245.11 655.87,239.44 648.56,242.7 647.59,240.5" fill="#a8a8a8" stroke="#3a3a3a" stroke-width="0.8" stroke-linejoin="round"/>
<polygon points="641,250 650.36,251.85 652.06,250.55 642.7,248.7" fill="#a8a8a8" stroke="#3a3a3a" stroke-width="0.5" stroke-linejoin="round"/>
<polygon points="650.36,251.85 649.39,249.66 651.09,248.36 652.06,250.55" fill="#a8a8a8" stroke="#3a3a3a" stroke-width="0.5" stroke-linejoin="round"/>
<polygon points="649.39,249.66 656.69,246.41 658.39,245.11 651.09,248.36" fill="#a8a8a8" stroke="#3a3a3a" stroke-width="0.5" stroke-linejoin="round"/>
<polygon points="656.69,246.41 654.17,240.74 655.87,239.44 658.39,245.11" fill="#a8a8a8" stroke="#3a3a3a" stroke-width="0.5" stroke-linejoin="round"/>
<polygon points="654.17,240.74 646.86,244 648.56,242.7 655.87,239.44" fill="#a8a8a8" stroke="#3a3a3a" stroke-width="0.5" stroke-linejoin="round"/>
<polygon points="646.86,244 645.89,241.8 647.59,240.5 648.56,242.7" fill="#a8a8a8" stroke="#3a3a3a" stroke-width="0.5" stroke-linejoin="round"/>
<polygon points="645.89,241.8 641,250 642.7,248.7 647.59,240.5" fill="#a8a8a8" stroke="#3a3a3a" stroke-width="0.5" stroke-linejoin="round"/>
<polygon points="641,250 650.36,251.85 649.39,249.66 656.69,246.41 654.17,240.74 646.86,244 645.89,241.8" fill="#171010" stroke="#171010" stroke-width="0.8" stroke-linejoin="round"/>
<polygon points="407.7,298.3 403.1,289.94 402.05,292.09 394.86,288.59 392.14,294.16 399.33,297.67 398.28,299.82" fill="#a8a8a8" stroke="#3a3a3a" stroke-width="0.8" stroke-linejoin="round"/>
<polygon points="406,299.6 401.4,291.24 403.1,289.94 407.7,298.3" fill="#a8a8a8" stroke="#3a3a3a" stroke-width="0.5" stroke-linejoin="round"/>
<polygon points="401.4,291.24 400.35,293.39 402.05,292.09 403.1,289.94" fill="#a8a8a8" stroke="#3a3a3a" stroke-width="0.5" stroke-linejoin="round"/>
<polygon points="400.35,293.39 393.16,289.89 394.86,288.59 402.05,292.09" fill="#a8a8a8" stroke="#3a3a3a" stroke-width="0.5" stroke-linejoin="round"/>
<polygon points="393.16,289.89 390.44,295.46 392.14,294.16 394.86,288.59" fill="#a8a8a8" stroke="#3a3a3a" stroke-width="0.5" stroke-linejoin="round"/>
<polygon points="390.44,295.46 397.63,298.97 399.33,297.67 392.14,294.16" fill="#a8a8a8" stroke="#3a3a3a" stroke-width="0.5" stroke-linejoin="round"/>
<polygon points="397.63,298.97 396.58,301.12 398.28,299.82 399.33,297.67" fill="#a8a8a8" stroke="#3a3a3a" stroke-width="0.5" stroke-linejoin="round"/>
<polygon points="396.58,301.12 406,299.6 407.7,298.3 398.28,299.82" fill="#a8a8a8" stroke="#3a3a3a" stroke-width="0.5" stroke-linejoin="round"/>
<polygon points="406,299.6 401.4,291.24 400.35,293.39 393.16,289.89 390.44,295.46 397.63,298.97 396.58,301.12" fill="#171010" stroke="#171010" stroke-width="0.8" stroke-linejoin="round"/>
<polygon points="502.1,293.7 511.48,295.47 510.48,293.29 517.76,289.97 515.19,284.33 507.91,287.64 506.92,285.46" fill="#a8a8a8" stroke="#3a3a3a" stroke-width="0.8" stroke-linejoin="round"/>
<polygon points="500.4,295 509.78,296.77 511.48,295.47 502.1,293.7" fill="#a8a8a8" stroke="#3a3a3a" stroke-width="0.5" stroke-linejoin="round"/>
<polygon points="509.78,296.77 508.78,294.59 510.48,293.29 511.48,295.47" fill="#a8a8a8" stroke="#3a3a3a" stroke-width="0.5" stroke-linejoin="round"/>
<polygon points="508.78,294.59 516.06,291.27 517.76,289.97 510.48,293.29" fill="#a8a8a8" stroke="#3a3a3a" stroke-width="0.5" stroke-linejoin="round"/>
<polygon points="516.06,291.27 513.49,285.63 515.19,284.33 517.76,289.97" fill="#a8a8a8" stroke="#3a3a3a" stroke-width="0.5" stroke-linejoin="round"/>
<polygon points="513.49,285.63 506.21,288.94 507.91,287.64 515.19,284.33" fill="#a8a8a8" stroke="#3a3a3a" stroke-width="0.5" stroke-linejoin="round"/>
<polygon points="506.21,288.94 505.22,286.76 506.92,285.46 507.91,287.64" fill="#a8a8a8" stroke="#3a3a3a" stroke-width="0.5" stroke-linejoin="round"/>
<polygon points="505.22,286.76 500.4,295 502.1,293.7 506.92,285.46" fill="#a8a8a8" stroke="#3a3a3a" stroke-width="0.5" stroke-linejoin="round"/>
<polygon points="500.4,295 509.78,296.77 508.78,294.59 516.06,291.27 513.49,285.63 506.21,288.94 505.22,286.76" fill="#171010" stroke="#171010" stroke-width="0.8" stroke-linejoin="round"/>
<polygon points="920.3,365.7 929.73,367.14 928.66,364.99 935.82,361.42 933.06,355.88 925.9,359.45 924.83,357.3" fill="#a8a8a8" stroke="#3a3a3a" stroke-width="0.8" stroke-linejoin="round"/>
<polygon points="918.6,367 928.03,368.44 929.73,367.14 920.3,365.7" fill="#a8a8a8" stroke="#3a3a3a" stroke-width="0.5" stroke-linejoin="round"/>
<polygon points="928.03,368.44 926.96,366.29 928.66,364.99 929.73,367.14" fill="#a8a8a8" stroke="#3a3a3a" stroke-width="0.5" stroke-linejoin="round"/>
<polygon points="926.96,366.29 934.12,362.72 935.82,361.42 928.66,364.99" fill="#a8a8a8" stroke="#3a3a3a" stroke-width="0.5" stroke-linejoin="round"/>
<polygon points="934.12,362.72 931.36,357.18 933.06,355.88 935.82,361.42" fill="#a8a8a8" stroke="#3a3a3a" stroke-width="0.5" stroke-linejoin="round"/>
<polygon points="931.36,357.18 924.2,360.75 925.9,359.45 933.06,355.88" fill="#a8a8a8" stroke="#3a3a3a" stroke-width="0.5" stroke-linejoin="round"/>
<polygon points="924.2,360.75 923.13,358.6 924.83,357.3 925.9,359.45" fill="#a8a8a8" stroke="#3a3a3a" stroke-width="0.5" stroke-linejoin="round"/>
<polygon points="923.13,358.6 918.6,367 920.3,365.7 924.83,357.3" fill="#a8a8a8" stroke="#3a3a3a" stroke-width="0.5" stroke-linejoin="round"/>
<polygon points="918.6,367 928.03,368.44 926.96,366.29 934.12,362.72 931.36,357.18 924.2,360.75 923.13,358.6" fill="#171010" stroke="#171010" stroke-width="0.8" stroke-linejoin="round"/>
<polygon points="812.5,414.5 821.83,416.52 820.89,414.31 828.26,411.18 825.83,405.47 818.47,408.6 817.53,406.39" fill="#a8a8a8" stroke="#3a3a3a" stroke-width="0.8" stroke-linejoin="round"/>
<polygon points="810.8,415.8 820.13,417.82 821.83,416.52 812.5,414.5" fill="#a8a8a8" stroke="#3a3a3a" stroke-width="0.5" stroke-linejoin="round"/>
<polygon points="820.13,417.82 819.19,415.61 820.89,414.31 821.83,416.52" fill="#a8a8a8" stroke="#3a3a3a" stroke-width="0.5" stroke-linejoin="round"/>
<polygon points="819.19,415.61 826.56,412.48 828.26,411.18 820.89,414.31" fill="#a8a8a8" stroke="#3a3a3a" stroke-width="0.5" stroke-linejoin="round"/>
<polygon points="826.56,412.48 824.13,406.77 825.83,405.47 828.26,411.18" fill="#a8a8a8" stroke="#3a3a3a" stroke-width="0.5" stroke-linejoin="round"/>
<polygon points="824.13,406.77 816.77,409.9 818.47,408.6 825.83,405.47" fill="#a8a8a8" stroke="#3a3a3a" stroke-width="0.5" stroke-linejoin="round"/>
<polygon points="816.77,409.9 815.83,407.69 817.53,406.39 818.47,408.6" fill="#a8a8a8" stroke="#3a3a3a" stroke-width="0.5" stroke-linejoin="round"/>
<polygon points="815.83,407.69 810.8,415.8 812.5,414.5 817.53,406.39" fill="#a8a8a8" stroke="#3a3a3a" stroke-width="0.5" stroke-linejoin="round"/>
<polygon points="810.8,415.8 820.13,417.82 819.19,415.61 826.56,412.48 824.13,406.77 816.77,409.9 815.83,407.69" fill="#171010" stroke="#171010" stroke-width="0.8" stroke-linejoin="round"/>
<polygon points="813.2,456.2 818.92,463.84 819.66,461.56 827.27,464.03 829.18,458.13 821.58,455.66 822.32,453.38" fill="#a8a8a8" stroke="#3a3a3a" stroke-width="0.8" stroke-linejoin="round"/>
<polygon points="811.5,457.5 817.22,465.14 818.92,463.84 813.2,456.2" fill="#a8a8a8" stroke="#3a3a3a" stroke-width="0.5" stroke-linejoin="round"/>
<polygon points="817.22,465.14 817.96,462.86 819.66,461.56 818.92,463.84" fill="#a8a8a8" stroke="#3a3a3a" stroke-width="0.5" stroke-linejoin="round"/>
<polygon points="817.96,462.86 825.57,465.33 827.27,464.03 819.66,461.56" fill="#a8a8a8" stroke="#3a3a3a" stroke-width="0.5" stroke-linejoin="round"/>
<polygon points="825.57,465.33 827.48,459.43 829.18,458.13 827.27,464.03" fill="#a8a8a8" stroke="#3a3a3a" stroke-width="0.5" stroke-linejoin="round"/>
<polygon points="827.48,459.43 819.88,456.96 821.58,455.66 829.18,458.13" fill="#a8a8a8" stroke="#3a3a3a" stroke-width="0.5" stroke-linejoin="round"/>
<polygon points="819.88,456.96 820.62,454.68 822.32,453.38 821.58,455.66" fill="#a8a8a8" stroke="#3a3a3a" stroke-width="0.5" stroke-linejoin="round"/>
<polygon points="820.62,454.68 811.5,457.5 813.2,456.2 822.32,453.38" fill="#a8a8a8" stroke="#3a3a3a" stroke-width="0.5" stroke-linejoin="round"/>
<polygon points="811.5,457.5 817.22,465.14 817.96,462.86 825.57,465.33 827.48,459.43 819.88,456.96 820.62,454.68" fill="#171010" stroke="#171010" stroke-width="0.8" stroke-linejoin="round"/>
<polygon points="409.2,490.2 414.78,497.94 415.57,495.67 423.13,498.28 425.15,492.41 417.58,489.81 418.37,487.54" fill="#a8a8a8" stroke="#3a3a3a" stroke-width="0.8" stroke-linejoin="round"/>
<polygon points="407.5,491.5 413.08,499.24 414.78,497.94 409.2,490.2" fill="#a8a8a8" stroke="#3a3a3a" stroke-width="0.5" stroke-linejoin="round"/>
<polygon points="413.08,499.24 413.87,496.97 415.57,495.67 414.78,497.94" fill="#a8a8a8" stroke="#3a3a3a" stroke-width="0.5" stroke-linejoin="round"/>
<polygon points="413.87,496.97 421.43,499.58 423.13,498.28 415.57,495.67" fill="#a8a8a8" stroke="#3a3a3a" stroke-width="0.5" stroke-linejoin="round"/>
<polygon points="421.43,499.58 423.45,493.71 425.15,492.41 423.13,498.28" fill="#a8a8a8" stroke="#3a3a3a" stroke-width="0.5" stroke-linejoin="round"/>
<polygon points="423.45,493.71 415.88,491.11 417.58,489.81 425.15,492.41" fill="#a8a8a8" stroke="#3a3a3a" stroke-width="0.5" stroke-linejoin="round"/>
<polygon points="415.88,491.11 416.67,488.84 418.37,487.54 417.58,489.81" fill="#a8a8a8" stroke="#3a3a3a" stroke-width="0.5" stroke-linejoin="round"/>
<polygon points="416.67,488.84 407.5,491.5 409.2,490.2 418.37,487.54" fill="#a8a8a8" stroke="#3a3a3a" stroke-width="0.5" stroke-linejoin="round"/>
<polygon points="407.5,491.5 413.08,499.24 413.87,496.97 421.43,499.58 423.45,493.71 415.88,491.11 416.67,488.84" fill="#171010" stroke="#171010" stroke-width="0.8" stroke-linejoin="round"/>
<ellipse cx="417.2" cy="43.2" rx="14.3" ry="8.5" fill="#fff" stroke="#2e2e2e" stroke-width="1.1" transform="rotate(-39 417.2 43.2)"/>
<ellipse cx="418.2" cy="42.7" rx="13.6" ry="8" fill="#fff" stroke="#4a4a4a" stroke-width="0.9" transform="rotate(-39 418.2 42.7)"/>
<ellipse cx="419.6" cy="42" rx="11.6" ry="6.4" fill="none" stroke="#2e2e2e" stroke-width="1.2" transform="rotate(-39 419.6 42)"/>
<path d="M436.4 52.6 L440.6 51.6 L445.6 54.8 L444.6 56.2 L438.4 55.6 Z" fill="#555" stroke="#2e2e2e" stroke-width="0.8" stroke-linejoin="round" stroke-linecap="round"/>
<ellipse cx="460.2" cy="57.5" rx="7.6" ry="3.8" fill="#fff" stroke="#161616" stroke-width="3.8" transform="rotate(-37 460.2 57.5)"/>
<polygon points="477.8,70.9 480.2,65.7 487.4,62.1 495,63.7 495.8,68.7 491.4,74.9 483.4,76.7 478.4,74.3" fill="#fff" stroke="#2a2a2a" stroke-width="1.1" stroke-linejoin="round"/>
<ellipse cx="487.2" cy="68.5" rx="7.4" ry="4.6" fill="none" stroke="#2a2a2a" stroke-width="1" transform="rotate(-30 487.2 68.5)"/>
<ellipse cx="487.2" cy="68.9" rx="3.4" ry="2.2" fill="#ddd" stroke="#333" stroke-width="1.3" transform="rotate(-30 487.2 68.9)"/>
<path d="M478.8 71.5 L484 69.7 M490.4 67.7 L495.4 66.5" fill="none" stroke="#1e1e1e" stroke-width="1.7" stroke-linejoin="round" stroke-linecap="round"/>
<path d="M478.4 73.9 C482.8 76.9 488.8 76.1 492.8 72.9" fill="none" stroke="#2a2a2a" stroke-width="1" stroke-linejoin="round" stroke-linecap="round"/>
<path d="M522 71 C512 68 501 75 500.6 86 C500.4 92 503 96.5 507 98.5" fill="none" stroke="#333" stroke-width="1.05" stroke-linejoin="round" stroke-linecap="round"/>
<path d="M507 98.5 L511 95" fill="none" stroke="#333" stroke-width="1.05" stroke-linejoin="round" stroke-linecap="round"/>
<path d="M522 71 L530 69" fill="none" stroke="#333" stroke-width="1.05" stroke-linejoin="round" stroke-linecap="round"/>
<path d="M530 69 C534 62 541 61 546 62.5 L553 64.5 L554.6 72 C560 74 564 78 563.6 82.6 L561 88 C559 92 556.5 95.5 553.6 97.6 L551 103.6 L545.4 106 C541 108 535 109.6 530.6 108.6 L528 113 L518 114 L512.6 111.6 L511.6 104.5 L505.4 100.6 L504 93 L507.6 91 C509 86 512 82 516 79.4 L517.6 74.6 L524.6 72.6 L527.6 74 C528.4 72 529.2 70.4 530 69 Z" fill="#fff" stroke="#333" stroke-width="1.05" stroke-linejoin="round" stroke-linecap="round"/>
<polygon points="542.8,65.5 547.9,64 549.6,69.1 544.3,70.4" fill="#fff" stroke="#3a3a3a" stroke-width="1.1" stroke-linejoin="round"/>
<polygon points="542.8,65.5 541.6,67.4 543.2,71.8 544.3,70.4" fill="#fff" stroke="#4a4a4a" stroke-width="0.8" stroke-linejoin="round"/>
<ellipse cx="546.2" cy="67.2" rx="1.5" ry="1.1" fill="none" stroke="#555" stroke-width="0.9"/>
<polygon points="518.2,76.7 523.3,75.2 525,80.3 519.7,81.6" fill="#fff" stroke="#3a3a3a" stroke-width="1.1" stroke-linejoin="round"/>
<polygon points="518.2,76.7 517,78.6 518.6,83 519.7,81.6" fill="#fff" stroke="#4a4a4a" stroke-width="0.8" stroke-linejoin="round"/>
<ellipse cx="521.6" cy="78.4" rx="1.5" ry="1.1" fill="none" stroke="#555" stroke-width="0.9"/>
<polygon points="505.2,95.5 510.3,94 512,99.1 506.7,100.4" fill="#fff" stroke="#3a3a3a" stroke-width="1.1" stroke-linejoin="round"/>
<polygon points="505.2,95.5 504,97.4 505.6,101.8 506.7,100.4" fill="#fff" stroke="#4a4a4a" stroke-width="0.8" stroke-linejoin="round"/>
<ellipse cx="508.6" cy="97.2" rx="1.5" ry="1.1" fill="none" stroke="#555" stroke-width="0.9"/>
<polygon points="516.6,107.7 521.7,106.2 523.4,111.3 518.1,112.6" fill="#fff" stroke="#3a3a3a" stroke-width="1.1" stroke-linejoin="round"/>
<polygon points="516.6,107.7 515.4,109.6 517,114 518.1,112.6" fill="#fff" stroke="#4a4a4a" stroke-width="0.8" stroke-linejoin="round"/>
<ellipse cx="520" cy="109.4" rx="1.5" ry="1.1" fill="none" stroke="#555" stroke-width="0.9"/>
<polygon points="544.6,98.9 549.7,97.4 551.4,102.5 546.1,103.8" fill="#fff" stroke="#3a3a3a" stroke-width="1.1" stroke-linejoin="round"/>
<polygon points="544.6,98.9 543.4,100.8 545,105.2 546.1,103.8" fill="#fff" stroke="#4a4a4a" stroke-width="0.8" stroke-linejoin="round"/>
<ellipse cx="548" cy="100.6" rx="1.5" ry="1.1" fill="none" stroke="#555" stroke-width="0.9"/>
<polygon points="555.2,78.9 560.3,77.4 562,82.5 556.7,83.8" fill="#fff" stroke="#3a3a3a" stroke-width="1.1" stroke-linejoin="round"/>
<polygon points="555.2,78.9 554,80.8 555.6,85.2 556.7,83.8" fill="#fff" stroke="#4a4a4a" stroke-width="0.8" stroke-linejoin="round"/>
<ellipse cx="558.6" cy="80.6" rx="1.5" ry="1.1" fill="none" stroke="#555" stroke-width="0.9"/>
<ellipse cx="539.2" cy="90.4" rx="16.4" ry="11.4" fill="#fff" stroke="#2e2e2e" stroke-width="1.6" transform="rotate(-38 539.2 90.4)"/>
<ellipse cx="539.6" cy="90.6" rx="14" ry="9.4" fill="none" stroke="#444" stroke-width="0.9" transform="rotate(-38 539.6 90.6)"/>
<path d="M531 94.6 L536.6 91.6 M533 88 L537.4 90.6 M541.6 81.4 L540.4 86.6" fill="none" stroke="#555" stroke-width="0.8" stroke-linejoin="round" stroke-linecap="round"/>
<path d="M513.6 84 C513 88 513 92 514.4 96" fill="none" stroke="#777" stroke-width="0.7" stroke-linejoin="round" stroke-linecap="round" stroke-dasharray="2 1.2"/>
<ellipse cx="581.29" cy="106.68" rx="12" ry="6.8" fill="#fff" stroke="#2e2e2e" stroke-width="1.1" transform="rotate(-44 581.29 106.68)"/>
<polygon points="592.1,98.05 587.59,97.13 574.99,116.23 579.5,117.15" fill="#fff" stroke="#fff" stroke-width="0.01" stroke-linejoin="round"/>
<line x1="592.1" y1="98.05" x2="587.59" y2="97.13" stroke="#2e2e2e" stroke-width="1.1" stroke-linecap="butt"/>
<line x1="579.5" y1="117.15" x2="574.99" y2="116.23" stroke="#2e2e2e" stroke-width="1.1" stroke-linecap="butt"/>
<ellipse cx="585.8" cy="107.6" rx="12" ry="6.8" fill="#fff" stroke="#2e2e2e" stroke-width="1.1" transform="rotate(-44 585.8 107.6)"/>
<ellipse cx="585" cy="108" rx="7.4" ry="3.6" fill="#fff" stroke="#222" stroke-width="2.4" transform="rotate(-44 585 108)"/>
<ellipse cx="617.15" cy="121.92" rx="15.2" ry="9.2" fill="#fff" stroke="#2e2e2e" stroke-width="1.1" transform="rotate(-44 617.15 121.92)"/>
<polygon points="632.06,111.11 624.8,109.63 609.49,134.21 616.74,135.69" fill="#fff" stroke="#fff" stroke-width="0.01" stroke-linejoin="round"/>
<line x1="632.06" y1="111.11" x2="624.8" y2="109.63" stroke="#2e2e2e" stroke-width="1.1" stroke-linecap="butt"/>
<line x1="616.74" y1="135.69" x2="609.49" y2="134.21" stroke="#2e2e2e" stroke-width="1.1" stroke-linecap="butt"/>
<ellipse cx="624.4" cy="123.4" rx="15.2" ry="9.2" fill="#fff" stroke="#2e2e2e" stroke-width="1.1" transform="rotate(-44 624.4 123.4)"/>
<ellipse cx="624" cy="123.8" rx="13.2" ry="7.6" fill="none" stroke="#4a4a4a" stroke-width="1" transform="rotate(-44 624 123.8)"/>
<ellipse cx="623.6" cy="124.4" rx="10.6" ry="5.6" fill="#fff" stroke="#262626" stroke-width="2.3" transform="rotate(-44 623.6 124.4)"/>
<ellipse cx="624" cy="124.6" rx="7.6" ry="3.4" fill="none" stroke="#4a4a4a" stroke-width="0.9" transform="rotate(-44 624 124.6)"/>
<ellipse cx="659" cy="138.6" rx="16.8" ry="9.3" fill="none" stroke="#2e2e2e" stroke-width="1.2" transform="rotate(-37 659 138.6)"/>
<ellipse cx="658.3" cy="139.1" rx="16.8" ry="9.3" fill="none" stroke="#4a4a4a" stroke-width="0.8" transform="rotate(-37 658.3 139.1)"/>
<ellipse cx="659.4" cy="138.2" rx="12.4" ry="6.2" fill="none" stroke="#2e2e2e" stroke-width="1.2" transform="rotate(-37 659.4 138.2)"/>
<ellipse cx="437" cy="507" rx="17.4" ry="9.5" fill="none" stroke="#262626" stroke-width="1.7" transform="rotate(-37 437 507)"/>
<ellipse cx="437.8" cy="506.8" rx="15.2" ry="7.9" fill="none" stroke="#4a4a4a" stroke-width="1" transform="rotate(-37 437.8 506.8)"/>
<ellipse cx="439" cy="506.6" rx="12.4" ry="5.7" fill="none" stroke="#2a2a2a" stroke-width="1.5" transform="rotate(-37 439 506.6)"/>
<ellipse cx="471.32" cy="521.2" rx="16.2" ry="9.4" fill="#fff" stroke="#2e2e2e" stroke-width="1.1" transform="rotate(-40 471.32 521.2)"/>
<polygon points="485.99,509.94 480.11,508.74 462.53,533.66 468.41,534.86" fill="#fff" stroke="#fff" stroke-width="0.01" stroke-linejoin="round"/>
<line x1="485.99" y1="509.94" x2="480.11" y2="508.74" stroke="#2e2e2e" stroke-width="1.1" stroke-linecap="butt"/>
<line x1="468.41" y1="534.86" x2="462.53" y2="533.66" stroke="#2e2e2e" stroke-width="1.1" stroke-linecap="butt"/>
<ellipse cx="477.2" cy="522.4" rx="16.2" ry="9.4" fill="#fff" stroke="#2e2e2e" stroke-width="1.1" transform="rotate(-40 477.2 522.4)"/>
<ellipse cx="477" cy="522.8" rx="14" ry="7.8" fill="none" stroke="#4a4a4a" stroke-width="0.9" transform="rotate(-40 477 522.8)"/>
<ellipse cx="477" cy="523" rx="11.2" ry="5.6" fill="#fff" stroke="#2a2a2a" stroke-width="2.2" transform="rotate(-40 477 523)"/>
<ellipse cx="477.6" cy="523" rx="7.8" ry="3.4" fill="none" stroke="#4a4a4a" stroke-width="0.9" transform="rotate(-40 477.6 523)"/>
<ellipse cx="513.1" cy="535.2" rx="11.6" ry="7" fill="#fff" stroke="#2e2e2e" stroke-width="1.1" transform="rotate(-40 513.1 535.2)"/>
<polygon points="524.08,527.16 519.18,526.16 507.02,544.24 511.92,545.24" fill="#fff" stroke="#fff" stroke-width="0.01" stroke-linejoin="round"/>
<line x1="524.08" y1="527.16" x2="519.18" y2="526.16" stroke="#2e2e2e" stroke-width="1.1" stroke-linecap="butt"/>
<line x1="511.92" y1="545.24" x2="507.02" y2="544.24" stroke="#2e2e2e" stroke-width="1.1" stroke-linecap="butt"/>
<ellipse cx="518" cy="536.2" rx="11.6" ry="7" fill="#fff" stroke="#2e2e2e" stroke-width="1.1" transform="rotate(-40 518 536.2)"/>
<ellipse cx="518.4" cy="536.6" rx="8.4" ry="4.6" fill="#fff" stroke="#222" stroke-width="2.2" transform="rotate(-40 518.4 536.6)"/>
<ellipse cx="518.8" cy="536.8" rx="5.2" ry="2.6" fill="none" stroke="#4a4a4a" stroke-width="0.9" transform="rotate(-40 518.8 536.8)"/>
<path d="M564 529.6 C568 528 574 528.4 578.4 530.4 L579.2 535.4 L585.6 538.4 L588.4 544 L587 549.4 C590 554 591 560 589.6 565 C587 571.4 580 575.4 573 574.6 L560 572.6 L552.6 574.4 L551.6 579 L543 580.6 L538.6 577.6 L539 573.4 L531.6 569.4 L528 563.6 L530 558 L534.6 555.6 C535 551 537 546.6 540 543.4 L541 538.6 L547.4 536.4 L551 538 C555 534 559 531.4 564 529.6 Z" fill="#fff" stroke="#333" stroke-width="1.05" stroke-linejoin="round" stroke-linecap="round"/>
<path d="M564 531.6 C556 535 548 543 545.4 552 C543 561 546 569 553.6 572" fill="none" stroke="#333" stroke-width="1.05" stroke-linejoin="round" stroke-linecap="round"/>
<path d="M570 537 C561 540 554.6 547 553 555 C551.6 563 555 569.6 561 571.6" fill="none" stroke="#555" stroke-width="0.8" stroke-linejoin="round" stroke-linecap="round"/>
<path d="M568.6 538.4 C574 536.4 581 537.6 585.4 541" fill="none" stroke="#555" stroke-width="0.8" stroke-linejoin="round" stroke-linecap="round"/>
<ellipse cx="579.4" cy="559.6" rx="11.2" ry="8" fill="#fff" stroke="#2e2e2e" stroke-width="1.5" transform="rotate(-52 579.4 559.6)"/>
<ellipse cx="578.6" cy="560.2" rx="9" ry="6.2" fill="none" stroke="#555" stroke-width="0.8" transform="rotate(-52 578.6 560.2)"/>
<ellipse cx="548.4" cy="541.4" rx="1.5" ry="1.2" fill="none" stroke="#555" stroke-width="0.8"/>
<ellipse cx="536.4" cy="564" rx="1.5" ry="1.2" fill="none" stroke="#555" stroke-width="0.8"/>
<ellipse cx="548.4" cy="576.4" rx="1.5" ry="1.2" fill="none" stroke="#555" stroke-width="0.8"/>
<ellipse cx="572.6" cy="533.4" rx="1.5" ry="1.2" fill="none" stroke="#555" stroke-width="0.8"/>
<ellipse cx="584" cy="545" rx="1.5" ry="1.2" fill="none" stroke="#555" stroke-width="0.8"/>
<polygon points="599.8,573.8 603.6,568.2 611,566 618.2,569.6 617.8,574.2 612,580.2 604,579.6 600,576.8" fill="#fff" stroke="#2a2a2a" stroke-width="1.2" stroke-linejoin="round"/>
<polyline points="599.8,573.8 605.4,575.8 612,580.2" fill="none" stroke="#2a2a2a" stroke-width="1" stroke-linejoin="round"/>
<polyline points="605.4,575.8 611.6,570.8 618.2,569.6" fill="none" stroke="#2a2a2a" stroke-width="1" stroke-linejoin="round"/>
<polygon points="600,574.2 605,576.2 611.6,580 604,579.4 600.2,576.8" fill="#777" stroke="#2a2a2a" stroke-width="0.6" stroke-linejoin="round"/>
<ellipse cx="610.8" cy="572.4" rx="4.6" ry="2.9" fill="#fff" stroke="#2a2a2a" stroke-width="1.3" transform="rotate(-30 610.8 572.4)"/>
<ellipse cx="610.8" cy="572.6" rx="2.4" ry="1.4" fill="#bbb" stroke="#444" stroke-width="0.9" transform="rotate(-30 610.8 572.6)"/>
<ellipse cx="636.8" cy="585.4" rx="7.6" ry="3.8" fill="#fff" stroke="#161616" stroke-width="3.8" transform="rotate(-37 636.8 585.4)"/>
<path d="M656.4 586.4 L660.6 586 L664.8 589.4 L664 591 L658.6 590.6 Z" fill="#555" stroke="#2e2e2e" stroke-width="0.8" stroke-linejoin="round" stroke-linecap="round"/>
<ellipse cx="685.3" cy="604.4" rx="14.4" ry="8.7" fill="none" stroke="#2e2e2e" stroke-width="1.2" transform="rotate(-40 685.3 604.4)"/>
<ellipse cx="684.6" cy="604.9" rx="14.4" ry="8.7" fill="none" stroke="#2e2e2e" stroke-width="0.8" transform="rotate(-40 684.6 604.9)"/>
<path d="M548.9 194.9 L567.7 187.6 L588.6 194.6 C592.4 196 594 199.6 594.5 204 L594.5 213.6 L577.9 221 L548.1 209.2 Z" fill="#fff" stroke="#2e2e2e" stroke-width="0.95" stroke-linejoin="round" stroke-linecap="round"/>
<polygon points="548.9,194.9 577.6,205.6 577.4,220.8 548.1,209.2" fill="none" stroke="#333" stroke-width="1.3" stroke-linejoin="round"/>
<polygon points="550.6,197.2 575.8,206.8 575.7,218.4 550,207.6" fill="none" stroke="#4a4a4a" stroke-width="0.7" stroke-linejoin="round"/>
<line x1="563.4" y1="198.8" x2="580.6" y2="192" stroke="#2e2e2e" stroke-width="1" stroke-linecap="butt"/>
<line x1="577.6" y1="205.6" x2="591.6" y2="196.6" stroke="#4a4a4a" stroke-width="0.9" stroke-linecap="butt"/>
<ellipse cx="563.6" cy="208.6" rx="12.2" ry="6.4" fill="#fff" stroke="#2e2e2e" stroke-width="1" transform="rotate(22 563.6 208.6)"/>
<path d="M552.6 205.6 C556 200.6 566 202.6 574.4 209.6" fill="none" stroke="#2e2e2e" stroke-width="1" stroke-linejoin="round" stroke-linecap="round"/>
<path d="M596.4 180 L601 177.8 L614.4 183.4 C617.6 184.8 619.2 187.6 619.2 190.9 L619.2 200.3 L596 191.6 Z" fill="#fff" stroke="#2e2e2e" stroke-width="0.95" stroke-linejoin="round" stroke-linecap="round"/>
<line x1="618.2" y1="189.5" x2="618.2" y2="199.5" stroke="#4a4a4a" stroke-width="0.7" stroke-linecap="butt"/>
<polygon points="536.5,230.7 553.2,223.9 607.6,245.2 591.6,252.6" fill="#fff" stroke="#2e2e2e" stroke-width="0.95" stroke-linejoin="round"/>
<polyline points="536.5,230.7 536.7,232.4 591.6,254.4 607.6,247 607.6,245.2" fill="none" stroke="#2e2e2e" stroke-width="0.8" stroke-linejoin="round"/>
<ellipse cx="548.9" cy="229.3" rx="1.7" ry="0.9" fill="none" stroke="#4a4a4a" stroke-width="0.8" transform="rotate(15 548.9 229.3)"/>
<ellipse cx="594.5" cy="247.4" rx="1.7" ry="0.9" fill="none" stroke="#4a4a4a" stroke-width="0.8" transform="rotate(15 594.5 247.4)"/>
<line x1="600.4" y1="236.5" x2="596" y2="238.8" stroke="#2e2e2e" stroke-width="0.85" stroke-linecap="butt"/>
<path d="M501.3 391.5 L520.1 384.2 L541 391.2 C544.8 392.6 546.4 396.2 546.9 400.6 L546.9 410.2 L530.3 417.6 L500.5 405.8 Z" fill="#fff" stroke="#2e2e2e" stroke-width="0.95" stroke-linejoin="round" stroke-linecap="round"/>
<polygon points="501.3,391.5 530,402.2 529.8,417.4 500.5,405.8" fill="none" stroke="#333" stroke-width="1.3" stroke-linejoin="round"/>
<polygon points="503,393.8 528.2,403.4 528.1,415 502.4,404.2" fill="none" stroke="#4a4a4a" stroke-width="0.7" stroke-linejoin="round"/>
<line x1="515.8" y1="395.4" x2="533" y2="388.6" stroke="#2e2e2e" stroke-width="1" stroke-linecap="butt"/>
<line x1="530" y1="402.2" x2="544" y2="393.2" stroke="#4a4a4a" stroke-width="0.9" stroke-linecap="butt"/>
<ellipse cx="516" cy="405.2" rx="12.2" ry="6.4" fill="#fff" stroke="#2e2e2e" stroke-width="1" transform="rotate(22 516 405.2)"/>
<path d="M505 402.2 C508.4 397.2 518.4 399.2 526.8 406.2" fill="none" stroke="#2e2e2e" stroke-width="1" stroke-linejoin="round" stroke-linecap="round"/>
<polygon points="489.3,429.7 506,422.9 560.4,444.2 544.4,451.6" fill="#fff" stroke="#2e2e2e" stroke-width="0.95" stroke-linejoin="round"/>
<polyline points="489.3,429.7 489.5,431.4 544.4,453.4 560.4,446 560.4,444.2" fill="none" stroke="#2e2e2e" stroke-width="0.8" stroke-linejoin="round"/>
<ellipse cx="501.7" cy="428.3" rx="1.7" ry="0.9" fill="none" stroke="#4a4a4a" stroke-width="0.8" transform="rotate(15 501.7 428.3)"/>
<ellipse cx="547.3" cy="446.4" rx="1.7" ry="0.9" fill="none" stroke="#4a4a4a" stroke-width="0.8" transform="rotate(15 547.3 446.4)"/>
<path d="M591.6 431 L601.6 428 C602.8 428.4 603 430 602 430.8 L592.6 434.2 Z" fill="#fff" stroke="#3a2624" stroke-width="1.1" stroke-linejoin="round" stroke-linecap="round"/>
<line x1="594.6" y1="430.4" x2="595.4" y2="433" stroke="#3a2624" stroke-width="0.6" stroke-linecap="butt"/>
<line x1="597" y1="429.6" x2="597.8" y2="432.2" stroke="#3a2624" stroke-width="0.6" stroke-linecap="butt"/>
<line x1="599.4" y1="428.8" x2="600.2" y2="431.4" stroke="#3a2624" stroke-width="0.6" stroke-linecap="butt"/>
<ellipse cx="588.8" cy="434" rx="4.2" ry="3.2" fill="#fff" stroke="#3a2624" stroke-width="1.3" transform="rotate(-20 588.8 434)"/>
<ellipse cx="588.4" cy="434.4" rx="2" ry="1.5" fill="#ccc" stroke="#666" stroke-width="0.8" transform="rotate(-20 588.4 434.4)"/>
<path d="M675.8 232.4 L680.6 250.6 C681.6 254 686 256 690.4 255.6 C695 255.2 698 252.6 697.6 249.6 L692.6 233" fill="#fff" stroke="#2e2020" stroke-width="1" stroke-linejoin="round" stroke-linecap="round"/>
<ellipse cx="689.2" cy="251.4" rx="8.3" ry="3.7" fill="#fff" stroke="#2e2020" stroke-width="1" transform="rotate(4 689.2 251.4)"/>
<ellipse cx="689.4" cy="250.8" rx="4" ry="1.5" fill="#fff" stroke="#221414" stroke-width="1.5" transform="rotate(4 689.4 250.8)"/>
<path d="M679.6 245.6 C683 249 692 249.6 696.6 246.4" fill="none" stroke="#2e2020" stroke-width="0.9" stroke-linejoin="round" stroke-linecap="round"/>
<path d="M678.6 241.6 C682 245 691 245.6 695.6 242.4" fill="none" stroke="#4a3a3a" stroke-width="0.8" stroke-linejoin="round" stroke-linecap="round"/>
<ellipse cx="684.2" cy="232.2" rx="8.3" ry="3.2" fill="#fff" stroke="#2e2020" stroke-width="1" transform="rotate(4 684.2 232.2)"/>
<ellipse cx="684.4" cy="232.2" rx="3.6" ry="1.3" fill="none" stroke="#2e2020" stroke-width="0.9" transform="rotate(4 684.4 232.2)"/>
<path d="M677 233.6 L680.4 247" fill="none" stroke="#2a1a1a" stroke-width="1.5" stroke-linejoin="round" stroke-linecap="round"/>
<ellipse cx="683.4" cy="236.6" rx="0.9" ry="0.6" fill="none" stroke="#2e2020" stroke-width="0.8"/>
<ellipse cx="687.4" cy="240.2" rx="0.9" ry="0.6" fill="none" stroke="#2e2020" stroke-width="0.8"/>
<line x1="692.6" y1="234.6" x2="703.6" y2="239.4" stroke="#555" stroke-width="0.7" stroke-dasharray="3 1.2" stroke-linecap="butt"/>
<path d="M724.2 260.2 L755.6 271.9 L747.4 284.6 L717.6 270.8 C713.6 269 711 266.2 711 263.8 C711 260.8 714 259 718 259 C720.6 259 722.8 259.4 724.2 260.2 Z" fill="#fff" stroke="#2e2e2e" stroke-width="1" stroke-linejoin="round" stroke-linecap="round"/>
<path d="M711.6 264.6 C711.4 261.4 714.6 259.4 718.6 259.4 C721 259.4 723 260 724.2 260.6 C720 260.8 715.6 262.4 714.2 266.6 Z" fill="#1c1c1c" stroke="#1c1c1c" stroke-width="0.9" stroke-linejoin="round" stroke-linecap="round"/>
<ellipse cx="718.4" cy="264.2" rx="4" ry="2" fill="#fff" stroke="#2a2a2a" stroke-width="1.1" transform="rotate(14 718.4 264.2)"/>
<path d="M715.6 268.4 C717.6 266.6 721.6 266.4 724.6 268" fill="none" stroke="#4a4a4a" stroke-width="0.8" stroke-linejoin="round" stroke-linecap="round"/>
<path d="M747.4 284.6 C744.6 280.6 745.6 274.4 751.6 270.4" fill="none" stroke="#2e2e2e" stroke-width="0.95" stroke-linejoin="round" stroke-linecap="round"/>
<path d="M750.4 285.6 C748 281.6 749 276.4 753.6 272.4" fill="none" stroke="#4a4a4a" stroke-width="0.8" stroke-linejoin="round" stroke-linecap="round"/>
<polygon points="766,270.4 848.4,303.6 839,322 770.8,298.3" fill="#fff" stroke="#fff" stroke-width="0.01" stroke-linejoin="round"/>
<line x1="766" y1="270.4" x2="848.4" y2="303.6" stroke="#2e2e2e" stroke-width="1.3" stroke-linecap="butt"/>
<line x1="770.5" y1="273.6" x2="846" y2="304.6" stroke="#4a4a4a" stroke-width="0.8" stroke-linecap="butt"/>
<line x1="776" y1="279.6" x2="843" y2="307" stroke="#4a4a4a" stroke-width="0.8" stroke-linecap="butt"/>
<line x1="770.8" y1="298.3" x2="838.6" y2="321.6" stroke="#2e2e2e" stroke-width="0.95" stroke-linecap="butt"/>
<polygon points="752.2,275.1 759.4,269.4 772.1,271.9 770.8,298.3 761.8,303 752.2,300.6" fill="#fff" stroke="#fff" stroke-width="0.01" stroke-linejoin="round"/>
<polygon points="752.2,275.1 759.4,269.4 772.1,271.9 761.8,277.7" fill="#fff" stroke="#2e2e2e" stroke-width="0.95" stroke-linejoin="round"/>
<polygon points="752.2,275.1 761.8,277.7 761.8,303 752.2,300.6" fill="#fff" stroke="#2e2e2e" stroke-width="0.95" stroke-linejoin="round"/>
<polyline points="761.8,303 770.8,298.3 770.8,290" fill="none" stroke="#2e2e2e" stroke-width="0.95" stroke-linejoin="round"/>
<path d="M763.4 283.6 C764.4 278.6 768 274.6 772.4 273.4" fill="none" stroke="#2e2e2e" stroke-width="0.9" stroke-linejoin="round" stroke-linecap="round"/>
<path d="M766 285 C767 281 770 277.6 774 276.4" fill="none" stroke="#4a4a4a" stroke-width="0.8" stroke-linejoin="round" stroke-linecap="round"/>
<ellipse cx="756.4" cy="278.4" rx="2.2" ry="1.4" fill="none" stroke="#4a4a4a" stroke-width="0.8"/>
<ellipse cx="756.4" cy="299.2" rx="2.2" ry="1.4" fill="none" stroke="#4a4a4a" stroke-width="0.8"/>
<line x1="754" y1="276.6" x2="754" y2="300" stroke="#777" stroke-width="0.6" stroke-linecap="butt"/>
<path d="M759.6 291.4 L763 289.6 L764.6 292.6 L761 294.4 Z" fill="#555" stroke="#222" stroke-width="0.9" stroke-linejoin="round" stroke-linecap="round"/>
<polygon points="839,308 851.3,303.6 861.6,309.4 857.5,331.3 847.2,337.5 839,335.6" fill="#fff" stroke="#fff" stroke-width="0.01" stroke-linejoin="round"/>
<polygon points="839,308 851.3,303.6 861.6,309.4 847.2,312.6" fill="#fff" stroke="#2e2e2e" stroke-width="0.95" stroke-linejoin="round"/>
<polygon points="839,308 847.2,312.6 847.2,337.5 839,335.6" fill="#fff" stroke="#2e2e2e" stroke-width="0.95" stroke-linejoin="round"/>
<polyline points="847.2,337.5 857.5,331.6 857.5,327" fill="none" stroke="#2e2e2e" stroke-width="0.95" stroke-linejoin="round"/>
<ellipse cx="842.4" cy="313.6" rx="1.8" ry="1.3" fill="none" stroke="#4a4a4a" stroke-width="0.8"/>
<ellipse cx="842" cy="332.6" rx="1.8" ry="1.3" fill="none" stroke="#4a4a4a" stroke-width="0.8"/>
<ellipse cx="859.6" cy="309.6" rx="1.8" ry="1.2" fill="none" stroke="#4a4a4a" stroke-width="0.8"/>
<path d="M834.6 319 L838.4 317.4 L839 321.4 L835.6 322.6 Z" fill="#555" stroke="#222" stroke-width="0.9" stroke-linejoin="round" stroke-linecap="round"/>
<path d="M861.6 316.6 L899 330.4 L895.6 342.4 L860.2 331.2 Z" fill="#fff" stroke="#fff" stroke-width="0.01" stroke-linejoin="round" stroke-linecap="round"/>
<line x1="861.6" y1="316.6" x2="899" y2="330.4" stroke="#2a2020" stroke-width="0.95" stroke-linecap="butt"/>
<line x1="860.2" y1="331.2" x2="895.6" y2="342.2" stroke="#2a2020" stroke-width="0.95" stroke-linecap="butt"/>
<path d="M852.4 313 C849.6 317 849.6 324.6 853 329.6 L860.2 331.2 C857.4 326.6 857.6 320.6 861.6 316.6 Z" fill="#fff" stroke="#2a2020" stroke-width="0.95" stroke-linejoin="round" stroke-linecap="round"/>
<path d="M852.4 313 C856 310.4 862 310.6 866.4 313.6 L861.6 316.6" fill="none" stroke="#2a2020" stroke-width="0.9" stroke-linejoin="round" stroke-linecap="round"/>
<path d="M868.6 319.4 C866.4 323.6 866.4 329 868.4 333.6" fill="none" stroke="#4a3a3a" stroke-width="0.8" stroke-linejoin="round" stroke-linecap="round"/>
<line x1="864.6" y1="332.4" x2="866.4" y2="335.6" stroke="#2a2020" stroke-width="0.9" stroke-linecap="butt"/>
<line x1="857.6" y1="313.4" x2="859.6" y2="310.6" stroke="#2a2020" stroke-width="0.9" stroke-linecap="butt"/>
<path d="M899 330.4 C905 331.6 912 334.4 914.4 337.6 C915.4 340.2 912 342.6 907 343.2 C903 343.6 898.6 343.2 895.6 342.2" fill="#fff" stroke="#2a1a1a" stroke-width="0.95" stroke-linejoin="round" stroke-linecap="round"/>
<path d="M892.6 335.6 L898.6 330.8 L901.6 332.6 L897.6 336.4 Z" fill="#2a1212" stroke="#2a1212" stroke-width="0.8" stroke-linejoin="round" stroke-linecap="round"/>
<path d="M898.4 337 C899.6 334.2 904 332.8 908 334 C910.6 334.8 912.6 336.6 912.4 338 C909 340 902 340 898.4 337 Z" fill="#2a1212" stroke="#241010" stroke-width="0.9" stroke-linejoin="round" stroke-linecap="round"/>
<path d="M898.6 333 L899.4 341.6" fill="none" stroke="#2a1212" stroke-width="1" stroke-linejoin="round" stroke-linecap="round"/>
<path d="M901.6 341.6 C905 342.4 910 341.6 912.6 339.4" fill="none" stroke="#3a2a2a" stroke-width="0.8" stroke-linejoin="round" stroke-linecap="round"/>
<path d="M928.6 352.2 C928.6 349.6 932.6 348.2 937 348.2 C940.6 348.2 943.6 349.2 946.4 350.6 L955 351.6 C957.4 350.2 960.6 349.2 964.6 349.2 C969 349.2 972.4 350.8 972.4 353.4 C972.4 355.8 969 357.4 964.4 357.4 C960.6 357.4 957.6 356.6 954.4 355.4 L946.6 354.6 C943.6 355.8 940.6 356.4 936.6 356.4 C932.4 356.4 928.6 354.8 928.6 352.2 Z" fill="#fbe4e2" stroke="#2e2020" stroke-width="1.25" stroke-linejoin="round" stroke-linecap="round"/>
<ellipse cx="936.4" cy="351.4" rx="2.6" ry="1.4" fill="#fff" stroke="#2e2020" stroke-width="0.8"/>
<ellipse cx="964.4" cy="352.6" rx="2.6" ry="1.4" fill="#fff" stroke="#2e2020" stroke-width="0.8"/>
<path d="M928.6 344.2 C928.6 341.6 932.6 340.2 937 340.2 C940.6 340.2 943.6 341.2 946.4 342.6 L955 343.6 C957.4 342.2 960.6 341.2 964.6 341.2 C969 341.2 972.4 342.8 972.4 345.4 C972.4 347.8 969 349.4 964.4 349.4 C960.6 349.4 957.6 348.6 954.4 347.4 L946.6 346.6 C943.6 347.8 940.6 348.4 936.6 348.4 C932.4 348.4 928.6 346.8 928.6 344.2 Z" fill="#fdf1f0" stroke="#2e2020" stroke-width="1.25" stroke-linejoin="round" stroke-linecap="round"/>
<ellipse cx="936.2" cy="343.6" rx="2.8" ry="1.5" fill="#fff" stroke="#2e2020" stroke-width="0.8"/>
<ellipse cx="963.4" cy="344.6" rx="2.8" ry="1.5" fill="#fff" stroke="#2e2020" stroke-width="0.8"/>
<line x1="940" y1="359.4" x2="956" y2="354.4" stroke="#333" stroke-width="0.8" stroke-linecap="butt"/>
<path d="M699.4 314 C700.4 311.6 704 310.6 707 311.4 L712 311.4 L713.4 314.6 L710.6 317.4 L708.6 320.6 L704.6 322.6 L700.6 320.6 Z" fill="#fff" stroke="#222" stroke-width="1" stroke-linejoin="round" stroke-linecap="round"/>
<ellipse cx="703.6" cy="315.4" rx="3.4" ry="2.6" fill="#fff" stroke="#222" stroke-width="1.2"/>
<ellipse cx="709.6" cy="313.6" rx="2.4" ry="2.4" fill="#fff" stroke="#222" stroke-width="1.1"/>
<ellipse cx="705.4" cy="320" rx="2.6" ry="1.6" fill="#888" stroke="#222" stroke-width="1.2" transform="rotate(20 705.4 320)"/>
<path d="M753 346.6 L757.6 345.2 L760 347 C763 344.4 769 344.4 772 346.6 L775.6 344.8 L777.8 346.6 L776.6 350 L772.6 350.6 C770 353.6 762.6 354 759.6 351.2 L756 352.2 L752.6 350.6 Z" fill="#fff" stroke="#222" stroke-width="1" stroke-linejoin="round" stroke-linecap="round"/>
<ellipse cx="754.6" cy="348.6" rx="1.8" ry="2.3" fill="#777" stroke="#222" stroke-width="1.1"/>
<ellipse cx="775.4" cy="347.4" rx="1.8" ry="2.4" fill="#fff" stroke="#222" stroke-width="1" transform="rotate(20 775.4 347.4)"/>
<path d="M760 347 C763 349.6 769 349.6 772 346.6" fill="none" stroke="#444" stroke-width="0.8" stroke-linejoin="round" stroke-linecap="round"/>
<text class="n" transform="translate(413.07 12.5) scale(1.180 1)" font-size="11.6" letter-spacing="1.04" fill="#2b2b2b">22</text>
<text class="n" transform="translate(435.64 20.4) scale(1.013 1)" font-size="11.6" letter-spacing="1.04" fill="#2b2b2b">21</text>
<text class="n" transform="translate(452.59 27.2) scale(1.126 1)" font-size="11.6" letter-spacing="1.04" fill="#2b2b2b">20</text>
<text class="n" transform="translate(481.15 38.8) scale(1.066 1)" font-size="11.6" letter-spacing="1.04" fill="#2b2b2b">19</text>
<text class="n" transform="translate(579.39 78) scale(1.136 1)" font-size="11.6" letter-spacing="1.04" fill="#2b2b2b">16</text>
<text class="n" transform="translate(620.45 94.6) scale(1.063 1)" font-size="11.6" letter-spacing="1.04" fill="#2b2b2b">17</text>
<text class="n" transform="translate(655.46 108) scale(1.053 1)" font-size="11.6" letter-spacing="1.04" fill="#2b2b2b">18</text>
<text class="n" transform="translate(707 160.2) scale(0.989 1)" font-size="11.6" fill="#2b2b2b">B</text>
<text class="n" transform="translate(604.79 168.8) scale(0.902 1)" font-size="11.6" fill="#2b2b2b">4</text>
<text class="n" transform="translate(640.45 187.5) scale(1.058 1)" font-size="11.6" letter-spacing="1.04" fill="#2b2b2b">13</text>
<text class="n" transform="translate(640.47 200.2) scale(1.030 1)" font-size="11.6" letter-spacing="1.04" fill="#2b2b2b">14</text>
<text class="n" transform="translate(648.92 213.2) scale(0.948 1)" font-size="11.6" fill="#2b2b2b">5</text>
<text class="n" transform="translate(648.92 224.3) scale(0.958 1)" font-size="11.6" fill="#2b2b2b">8</text>
<text class="n" transform="translate(722.42 192.6) scale(1.097 1)" font-size="11.6" letter-spacing="1.04" fill="#2b2b2b">13</text>
<text class="n" transform="translate(722.44 207.2) scale(1.068 1)" font-size="11.6" letter-spacing="1.04" fill="#2b2b2b">14</text>
<text class="n" transform="translate(729.51 226) scale(0.981 1)" font-size="11.6" letter-spacing="1.04" fill="#2b2b2b">11</text>
<text class="n" transform="translate(597.36 228.5) scale(0.952 1)" font-size="11.6" fill="#2b2b2b">2</text>
<text class="n" transform="translate(629.55 256.2) scale(0.855 1)" font-size="11.6" fill="#2b2b2b">C</text>
<text class="n" transform="translate(623.92 273.7) scale(1.132 1)" font-size="11.6" fill="#2b2b2b">3</text>
<text class="n" transform="translate(645.27 277.2) scale(1.041 1)" font-size="11.6" letter-spacing="1.04" fill="#2b2b2b">15</text>
<text class="n" transform="translate(645.27 290) scale(1.041 1)" font-size="11.6" letter-spacing="1.04" fill="#2b2b2b">15</text>
<text class="n" transform="translate(741.8 240.4) scale(1.102 1)" font-size="11.6" fill="#2b2b2b">9</text>
<text class="n" transform="translate(742.69 253.4) scale(1.142 1)" font-size="11.6" letter-spacing="1.04" fill="#2b2b2b">10</text>
<text class="n" transform="translate(667.82 320) scale(1.059 1)" font-size="11.6" letter-spacing="1.04" fill="#2b2b2b">25</text>
<text class="n" transform="translate(734.81 327) scale(1.083 1)" font-size="11.6" letter-spacing="1.04" fill="#2b2b2b">26</text>
<text class="n" transform="translate(696.51 341.2) scale(1.084 1)" font-size="11.6" fill="#2b2b2b">9</text>
<text class="n" transform="translate(689.13 354) scale(1.086 1)" font-size="11.6" letter-spacing="1.04" fill="#2b2b2b">10</text>
<text class="n" transform="translate(756.5 335.8) scale(1.096 1)" font-size="11.6" letter-spacing="1.04" fill="#2b2b2b">25</text>
<text class="n" transform="translate(790.78 326) scale(1.160 1)" font-size="11.6" letter-spacing="1.04" fill="#2b2b2b">26</text>
<text class="n" transform="translate(910.3 250) scale(0.995 1)" font-size="11.6" letter-spacing="1.04" fill="#2b2b2b">13</text>
<text class="n" transform="translate(973.45 245.8) scale(1.058 1)" font-size="11.6" letter-spacing="1.04" fill="#2b2b2b">13</text>
<text class="n" transform="translate(910.32 265) scale(0.969 1)" font-size="11.6" letter-spacing="1.04" fill="#2b2b2b">14</text>
<text class="n" transform="translate(973.47 261.3) scale(1.030 1)" font-size="11.6" letter-spacing="1.04" fill="#2b2b2b">14</text>
<text class="n" transform="translate(910.33 280.8) scale(0.956 1)" font-size="11.6" letter-spacing="1.04" fill="#2b2b2b">11</text>
<text class="n" transform="translate(976.6 277.5) scale(1.000 1)" font-size="11.6" fill="#2b2b2b">5</text>
<text class="n" transform="translate(880.6 290.2) scale(1.102 1)" font-size="11.6" fill="#2b2b2b">9</text>
<text class="n" transform="translate(874.19 303) scale(1.008 1)" font-size="11.6" letter-spacing="1.04" fill="#2b2b2b">10</text>
<text class="n" transform="translate(987.29 356) scale(0.890 1)" font-size="11.6" fill="#2b2b2b">7</text>
<text class="n" transform="translate(907.56 373.3) scale(0.911 1)" font-size="11.6" fill="#2b2b2b">D</text>
<text class="n" transform="translate(882.34 386.2) scale(1.013 1)" font-size="11.6" fill="#2b2b2b">9</text>
<text class="n" transform="translate(875.3 399) scale(1.000 1)" font-size="11.6" letter-spacing="1.04" fill="#2b2b2b">10</text>
<text class="n" transform="translate(897.11 417.5) scale(1.118 1)" font-size="11.6" letter-spacing="1.04" fill="#2b2b2b">15</text>
<text class="n" transform="translate(982.89 417.5) scale(1.142 1)" font-size="11.6" letter-spacing="1.04" fill="#2b2b2b">15</text>
<text class="n" transform="translate(757.26 412.6) scale(0.960 1)" font-size="11.6" fill="#2b2b2b">6</text>
<text class="n" transform="translate(834.51 409.8) scale(0.981 1)" font-size="11.6" fill="#2b2b2b">D</text>
<text class="n" transform="translate(834.98 472) scale(0.939 1)" font-size="11.6" fill="#2b2b2b">A</text>
<text class="n" transform="translate(749.81 479) scale(1.110 1)" font-size="11.6" letter-spacing="1.04" fill="#2b2b2b">12</text>
<text class="n" transform="translate(756.3 490.2) scale(1.120 1)" font-size="11.6" fill="#2b2b2b">6</text>
<text class="n" transform="translate(379.17 294) scale(0.904 1)" font-size="11.6" fill="#2b2b2b">B</text>
<text class="n" transform="translate(444.82 290.8) scale(1.049 1)" font-size="11.6" fill="#2b2b2b">6</text>
<text class="n" transform="translate(518.75 288.4) scale(0.869 1)" font-size="11.6" fill="#2b2b2b">C</text>
<text class="n" transform="translate(437.74 341.8) scale(1.079 1)" font-size="11.6" letter-spacing="1.04" fill="#2b2b2b">12</text>
<text class="n" transform="translate(444.82 353.2) scale(1.049 1)" font-size="11.6" fill="#2b2b2b">6</text>
<text class="n" transform="translate(461.53 433.8) scale(1.042 1)" font-size="11.6" fill="#2b2b2b">2</text>
<text class="n" transform="translate(581.79 463) scale(1.144 1)" font-size="11.6" letter-spacing="1.04" fill="#2b2b2b">23</text>
<text class="n" transform="translate(603.09 454) scale(1.130 1)" font-size="11.6" letter-spacing="1.04" fill="#2b2b2b">24</text>
<text class="n" transform="translate(514.94 472.5) scale(1.080 1)" font-size="11.6" fill="#2b2b2b">3</text>
<text class="n" transform="translate(438.14 477.8) scale(1.077 1)" font-size="11.6" letter-spacing="1.04" fill="#2b2b2b">18</text>
<text class="n" transform="translate(393.67 491.8) scale(0.965 1)" font-size="11.6" fill="#2b2b2b">A</text>
<text class="n" transform="translate(478.43 493) scale(1.086 1)" font-size="11.6" letter-spacing="1.04" fill="#2b2b2b">17</text>
<text class="n" transform="translate(512.21 507) scale(1.113 1)" font-size="11.6" letter-spacing="1.04" fill="#2b2b2b">16</text>
<text class="n" transform="translate(603.43 543.3) scale(1.082 1)" font-size="11.6" letter-spacing="1.04" fill="#2b2b2b">19</text>
<text class="n" transform="translate(632.79 554.4) scale(1.134 1)" font-size="11.6" letter-spacing="1.04" fill="#2b2b2b">20</text>
<text class="n" transform="translate(656.14 564.3) scale(0.998 1)" font-size="11.6" letter-spacing="1.04" fill="#2b2b2b">21</text>
<text class="n" transform="translate(682.28 574.3) scale(1.149 1)" font-size="11.6" letter-spacing="1.04" fill="#2b2b2b">22</text>
<rect x="553.6" y="165.8" width="26" height="13.8" fill="none" stroke="#c3262c" stroke-width="1.6"/>
<rect x="572.3" y="400" width="24.1" height="14.5" fill="none" stroke="#c3262c" stroke-width="1.6"/>
<text class="n" transform="translate(563.45 176.6) scale(0.872 1)" font-size="10.6" fill="#333">1</text>
<text class="n" transform="translate(580.45 411.2) scale(0.872 1)" font-size="10.6" fill="#333">1</text>
<text class="n" transform="translate(758.71 172.1) scale(1.209 1)" font-size="9.3" fill="#2b2b2b">SEE</text>
<text class="n" transform="translate(788.43 172.1) scale(1.116 1)" font-size="9.3" fill="#2b2b2b">GROUP</text>
<text class="n" transform="translate(833.58 172.1) scale(1.105 1)" font-size="9.3" fill="#2b2b2b">NO.</text>
<text class="n" transform="translate(856.2 172.1) scale(1.484 1)" font-size="9.3" letter-spacing="0.47" fill="#2b2b2b">01-43-04</text>
<line x1="758" y1="174.9" x2="917.4" y2="174.9" stroke="#2b2b2b" stroke-width="1" stroke-linecap="butt"/>
<line x1="917" y1="175" x2="836" y2="298" stroke="#2b2b2b" stroke-width="0.9" stroke-linecap="butt"/>
<defs><g id="wm" role="img" aria-label="SAWIM GROUP">
<path d="M952.00 225.80 C965.67 225.70 978.00 227.97 990.00 230.60 C1002.00 233.23 1015.50 238.33 1024.00 241.60 C1032.50 244.87 1037.28 247.72 1041.00 250.20 C1044.72 252.68 1045.40 252.87 1046.30 256.50 C1047.20 260.13 1046.32 266.42 1046.40 272.00 C1046.48 277.58 1046.60 284.50 1046.80 290.00 C1047.00 295.50 1047.30 301.00 1047.60 305.00 C1047.90 309.00 1048.47 311.33 1048.60 314.00 C1048.73 316.67 1048.73 318.57 1048.40 321.00 C1048.07 323.43 1047.67 326.43 1046.60 328.60 C1045.53 330.77 1043.70 332.43 1042.00 334.00 C1040.30 335.57 1038.90 336.53 1036.40 338.00 C1033.90 339.47 1030.90 341.33 1027.00 342.80 C1023.10 344.27 1017.67 345.73 1013.00 346.80 C1008.33 347.87 1005.33 348.37 999.00 349.20 C992.67 350.03 982.83 351.23 975.00 351.80 C967.17 352.37 960.00 352.60 952.00 352.60 C944.00 352.60 935.33 352.50 927.00 351.80 C918.67 351.10 909.67 350.03 902.00 348.40 C894.33 346.77 887.00 344.00 881.00 342.00 C875.00 340.00 870.07 338.63 866.00 336.40 C861.93 334.17 858.87 331.45 856.60 328.60 C854.33 325.75 853.10 322.45 852.40 319.30 C851.70 316.15 852.07 312.92 852.40 309.70 C852.73 306.48 853.80 303.28 854.40 300.00 C855.00 296.72 855.63 294.50 856.00 290.00 C856.37 285.50 856.10 277.75 856.60 273.00 C857.10 268.25 857.43 265.27 859.00 261.50 C860.57 257.73 861.80 254.12 866.00 250.40 C870.20 246.68 877.20 242.40 884.20 239.20 C891.20 236.00 896.70 233.43 908.00 231.20 C919.30 228.97 938.33 225.90 952.00 225.80 Z" fill="none" stroke="#e0312a" stroke-width="6.2" stroke-linejoin="round"/>
<polygon points="858.4,317.9 1041.5,317.9 1040.5,323 1036,329 1026,335 1012,339.5 999,341.8 975,344.8 952,345.8 927,344.8 902,340.8 885.5,337.7 871,332.9 861.3,325.1" fill="#e0312a" stroke="#e0312a" stroke-width="0.6" stroke-linejoin="round"/>
<path d="M868.00 270.00 C868.67 268.17 869.33 262.25 872.00 259.00 C874.67 255.75 878.00 253.13 884.00 250.50 C890.00 247.87 899.50 245.18 908.00 243.20 C916.50 241.22 927.50 239.53 935.00 238.60 C942.50 237.67 946.33 237.27 953.00 237.60 C959.67 237.93 967.17 238.93 975.00 240.60 C982.83 242.27 992.17 244.97 1000.00 247.60 C1007.83 250.23 1016.07 253.80 1022.00 256.40 C1027.93 259.00 1033.33 262.07 1035.60 263.20" fill="none" stroke="#e0312a" stroke-width="9" stroke-linecap="round" stroke-linejoin="round"/>
<text class="wmt" transform="translate(862.47 309.75) scale(0.639 1)" font-size="73.19" fill="#e0312a" stroke="#e0312a" stroke-width="6.5" stroke-linejoin="round">S</text>
<text class="wmt" transform="translate(897.28 308.5) scale(0.613 1)" font-size="70.29" fill="#e0312a" stroke="#e0312a" stroke-width="9" stroke-linejoin="round">A</text>
<text class="wmt" transform="translate(934.76 309) scale(0.565 1)" font-size="69.57" fill="#e0312a" stroke="#e0312a" stroke-width="8" stroke-linejoin="round">W</text>
<text class="wmt" transform="translate(976.84 310) scale(0.741 1)" font-size="70.29" fill="#e0312a" stroke="#e0312a" stroke-width="6" stroke-linejoin="round">I</text>
<text class="wmt" transform="translate(996.53 309.5) scale(0.859 1)" font-size="62.32" fill="#e0312a" stroke="#e0312a" stroke-width="7" stroke-linejoin="round">M</text>
<text class="wmg" x="948.6" y="337.2" text-anchor="middle" font-size="20.6" letter-spacing="0.6" fill="#ffffff">GROUP</text>
</g></defs>
<use href="#wm" x="-313" y="-103" opacity="0.16"/>
<use href="#wm" x="0" y="0" opacity="0.16"/>
<use href="#wm" x="-387" y="146" opacity="0.16"/>
</g>
</svg>
</body>
</html>
